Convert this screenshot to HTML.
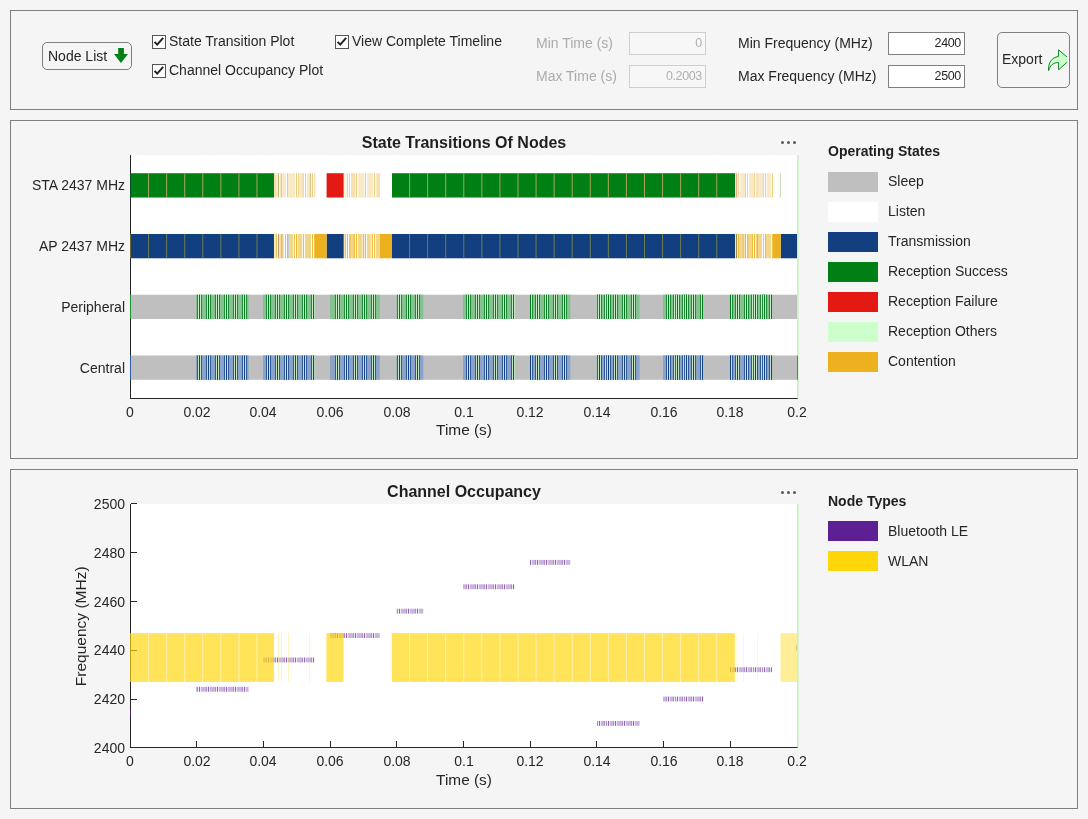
<!DOCTYPE html>
<html><head><meta charset="utf-8">
<style>
html,body{margin:0;padding:0;}
body{width:1088px;height:819px;background:#f5f5f5;position:relative;overflow:hidden;font-family:"Liberation Sans",sans-serif;color:#262626;}
.a{position:absolute;white-space:nowrap;will-change:transform;}
.panel{position:absolute;border:1px solid #7f7f7f;box-sizing:border-box;}
.t14{font-size:14px;line-height:16px;}
.cb{position:absolute;width:14px;height:14px;box-sizing:border-box;border:1px solid #555;background:#fff;}
.fld{position:absolute;box-sizing:border-box;height:23px;font-size:12.5px;line-height:20px;text-align:right;padding-right:3.2px;will-change:transform;letter-spacing:-0.4px;}
.dis{border:1px solid #cfcfcf;background:#f7f7f7;color:#b0b0b0;}
.en{border:1px solid #7f7f7f;background:#fff;color:#262626;}
.btn{position:absolute;box-sizing:border-box;border:1px solid #7f7f7f;border-radius:5px;}
svg.plot{position:absolute;left:0;top:0;}
</style></head>
<body>
<div class="panel" style="left:10px;top:10px;width:1068px;height:100px;"></div>
<div class="btn" style="left:42px;top:42px;width:90px;height:28px;"></div>
<div class="a t14" style="left:48px;top:48px;">Node List</div>
<svg class="a" style="left:112px;top:46px;" width="18" height="20" viewBox="0 0 18 20"><path d="M6.2 2 H11.9 V8 H16 L8.95 17 L2 8 H6.2 Z" fill="#008014"/></svg>
<div class="cb" style="left:152px;top:35px;"></div>
<svg class="a" style="left:152px;top:35px;" width="14" height="14"><path d="M2.6 6.9 L5.2 9.6 L11.2 2.9" fill="none" stroke="#222" stroke-width="2"/></svg>
<div class="a t14" style="left:169px;top:33px;">State Transition Plot</div>
<div class="cb" style="left:152px;top:64px;"></div>
<svg class="a" style="left:152px;top:64px;" width="14" height="14"><path d="M2.6 6.9 L5.2 9.6 L11.2 2.9" fill="none" stroke="#222" stroke-width="2"/></svg>
<div class="a t14" style="left:169px;top:62px;">Channel Occupancy Plot</div>
<div class="cb" style="left:335px;top:35px;"></div>
<svg class="a" style="left:335px;top:35px;" width="14" height="14"><path d="M2.6 6.9 L5.2 9.6 L11.2 2.9" fill="none" stroke="#222" stroke-width="2"/></svg>
<div class="a t14" style="left:352px;top:33px;">View Complete Timeline</div>
<div class="a t14" style="left:536px;top:35px;color:#ababab;">Min Time (s)</div>
<div class="a t14" style="left:536px;top:68px;color:#ababab;">Max Time (s)</div>
<div class="fld dis" style="left:629px;top:32px;width:77px;">0</div>
<div class="fld dis" style="left:629px;top:65px;width:77px;">0.2003</div>
<div class="a t14" style="left:738px;top:35px;">Min Frequency (MHz)</div>
<div class="a t14" style="left:738px;top:68px;">Max Frequency (MHz)</div>
<div class="fld en" style="left:888px;top:32px;width:77px;">2400</div>
<div class="fld en" style="left:888px;top:65px;width:77px;">2500</div>
<div class="btn" style="left:997px;top:32px;width:73px;height:56px;"></div>
<div class="a t14" style="left:1002px;top:51px;">Export</div>
<svg class="a" style="left:1040px;top:45px;" width="27" height="30" viewBox="1040 45 27 30"><path d="M1048.6 70.6 C1048 63 1051.5 57.5 1058.6 56.4 V49.8 L1070 59.6 L1058.6 69.8 V62.6 C1053.5 62.3 1050 65.5 1048.6 70.6 Z" fill="#ccffcc" stroke="#008014" stroke-width="0.95" stroke-linejoin="miter"/></svg>

<div class="panel" style="left:10px;top:120px;width:1068px;height:339px;"></div>
<div class="panel" style="left:10px;top:469px;width:1068px;height:340px;"></div>

<svg class="plot" width="1088" height="819"><rect x="131" y="155" width="666" height="243" fill="#fff"/><rect x="130.5" y="173.22" width="143.5" height="24.3" fill="#007f14"/><rect x="148.07" y="173.22" width="1" height="24.3" fill="#a9a35a"/><rect x="166.14" y="173.22" width="1" height="24.3" fill="#a9a35a"/><rect x="184.21" y="173.22" width="1" height="24.3" fill="#a9a35a"/><rect x="202.28" y="173.22" width="1" height="24.3" fill="#a9a35a"/><rect x="220.35" y="173.22" width="1" height="24.3" fill="#a9a35a"/><rect x="238.42" y="173.22" width="1" height="24.3" fill="#a9a35a"/><rect x="256.49" y="173.22" width="1" height="24.3" fill="#a9a35a"/><rect x="392" y="173.22" width="343" height="24.3" fill="#007f14"/><rect x="409.07" y="173.22" width="1" height="24.3" fill="#a9a35a"/><rect x="427.14" y="173.22" width="1" height="24.3" fill="#a9a35a"/><rect x="445.21" y="173.22" width="1" height="24.3" fill="#a9a35a"/><rect x="463.28" y="173.22" width="1" height="24.3" fill="#a9a35a"/><rect x="481.35" y="173.22" width="1" height="24.3" fill="#a9a35a"/><rect x="499.42" y="173.22" width="1" height="24.3" fill="#a9a35a"/><rect x="517.49" y="173.22" width="1" height="24.3" fill="#a9a35a"/><rect x="535.56" y="173.22" width="1" height="24.3" fill="#a9a35a"/><rect x="553.63" y="173.22" width="1" height="24.3" fill="#a9a35a"/><rect x="571.7" y="173.22" width="1" height="24.3" fill="#a9a35a"/><rect x="589.77" y="173.22" width="1" height="24.3" fill="#a9a35a"/><rect x="607.84" y="173.22" width="1" height="24.3" fill="#a9a35a"/><rect x="625.91" y="173.22" width="1" height="24.3" fill="#a9a35a"/><rect x="643.98" y="173.22" width="1" height="24.3" fill="#a9a35a"/><rect x="662.05" y="173.22" width="1" height="24.3" fill="#a9a35a"/><rect x="680.12" y="173.22" width="1" height="24.3" fill="#a9a35a"/><rect x="698.19" y="173.22" width="1" height="24.3" fill="#a9a35a"/><rect x="716.26" y="173.22" width="1" height="24.3" fill="#a9a35a"/><rect x="326.6" y="173.22" width="17.1" height="24.3" fill="#e31a14"/><rect x="274" y="173.22" width="2.7" height="24.3" fill="#f6deb0"/><rect x="277.8" y="173.22" width="1.2" height="24.3" fill="#c9b765"/><rect x="280.3" y="173.22" width="5.7" height="24.3" fill="#f8e9c8"/><rect x="280.8" y="173.22" width="1" height="24.3" fill="#c8c890"/><rect x="287" y="173.22" width="8" height="24.3" fill="#f8e9c8"/><rect x="287" y="173.22" width="1" height="24.3" fill="#f1cd7a"/><rect x="296" y="173.22" width="1" height="24.3" fill="#f1cd7a"/><rect x="298" y="173.22" width="6" height="24.3" fill="#f8e9c8"/><rect x="298" y="173.22" width="1" height="24.3" fill="#f3d89a"/><rect x="302.5" y="173.22" width="1.3" height="24.3" fill="#f3d89a"/><rect x="305" y="173.22" width="1" height="24.3" fill="#f1cd7a"/><rect x="306.8" y="173.22" width="3.6" height="24.3" fill="#f8e9c8"/><rect x="309.8" y="173.22" width="1" height="24.3" fill="#c9bd8a"/><rect x="311.8" y="173.22" width="1.2" height="24.3" fill="#f1cd7a"/><rect x="313.9" y="173.22" width="1.4" height="24.3" fill="#f6dfb0"/><rect x="343.9" y="173.22" width="2.3" height="24.3" fill="#fbf0d8"/><rect x="346.9" y="173.22" width="1" height="24.3" fill="#f1cd7a"/><rect x="349" y="173.22" width="0.9" height="24.3" fill="#f1cd7a"/><rect x="351" y="173.22" width="4.2" height="24.3" fill="#f6e0b0"/><rect x="355.9" y="173.22" width="1.1" height="24.3" fill="#f1cd7a"/><rect x="358.2" y="173.22" width="5.7" height="24.3" fill="#f8e9c8"/><rect x="364.8" y="173.22" width="1.2" height="24.3" fill="#f1cd7a"/><rect x="367.1" y="173.22" width="5.8" height="24.3" fill="#f8e9c8"/><rect x="374" y="173.22" width="1" height="24.3" fill="#f1cd7a"/><rect x="376.3" y="173.22" width="3.7" height="24.3" fill="#f6e0b0"/><rect x="735.8" y="173.22" width="1.4" height="24.3" fill="#f0a58a"/><rect x="738" y="173.22" width="0.8" height="24.3" fill="#f1cd7a"/><rect x="740.2" y="173.22" width="5.5" height="24.3" fill="#f8e9c8"/><rect x="745" y="173.22" width="0.8" height="24.3" fill="#f1cd7a"/><rect x="747.1" y="173.22" width="0.8" height="24.3" fill="#f1cd7a"/><rect x="749" y="173.22" width="5.8" height="24.3" fill="#f8e9c8"/><rect x="754" y="173.22" width="0.8" height="24.3" fill="#f1cd7a"/><rect x="755.9" y="173.22" width="8" height="24.3" fill="#f8e9c8"/><rect x="756.6" y="173.22" width="1" height="24.3" fill="#f8d0b8"/><rect x="763.2" y="173.22" width="0.7" height="24.3" fill="#f1cd7a"/><rect x="765" y="173.22" width="0.9" height="24.3" fill="#f1cd7a"/><rect x="766.7" y="173.22" width="4.3" height="24.3" fill="#f8e9c8"/><rect x="772" y="173.22" width="1" height="24.3" fill="#f1cd7a"/><rect x="779.9" y="173.22" width="1.1" height="24.3" fill="#cfd8b8"/><rect x="130.5" y="233.98" width="143.5" height="24.3" fill="#113f7f"/><rect x="148.07" y="233.98" width="1" height="24.3" fill="#6f7d4f"/><rect x="166.14" y="233.98" width="1" height="24.3" fill="#6f7d4f"/><rect x="184.21" y="233.98" width="1" height="24.3" fill="#6f7d4f"/><rect x="202.28" y="233.98" width="1" height="24.3" fill="#6f7d4f"/><rect x="220.35" y="233.98" width="1" height="24.3" fill="#6f7d4f"/><rect x="238.42" y="233.98" width="1" height="24.3" fill="#6f7d4f"/><rect x="256.49" y="233.98" width="1" height="24.3" fill="#6f7d4f"/><rect x="326.6" y="233.98" width="17.1" height="24.3" fill="#113f7f"/><rect x="392" y="233.98" width="343" height="24.3" fill="#113f7f"/><rect x="409.07" y="233.98" width="1" height="24.3" fill="#6f7d4f"/><rect x="427.14" y="233.98" width="1" height="24.3" fill="#6f7d4f"/><rect x="445.21" y="233.98" width="1" height="24.3" fill="#6f7d4f"/><rect x="463.28" y="233.98" width="1" height="24.3" fill="#6f7d4f"/><rect x="481.35" y="233.98" width="1" height="24.3" fill="#6f7d4f"/><rect x="499.42" y="233.98" width="1" height="24.3" fill="#6f7d4f"/><rect x="517.49" y="233.98" width="1" height="24.3" fill="#6f7d4f"/><rect x="535.56" y="233.98" width="1" height="24.3" fill="#6f7d4f"/><rect x="553.63" y="233.98" width="1" height="24.3" fill="#6f7d4f"/><rect x="571.7" y="233.98" width="1" height="24.3" fill="#6f7d4f"/><rect x="589.77" y="233.98" width="1" height="24.3" fill="#6f7d4f"/><rect x="607.84" y="233.98" width="1" height="24.3" fill="#6f7d4f"/><rect x="625.91" y="233.98" width="1" height="24.3" fill="#6f7d4f"/><rect x="643.98" y="233.98" width="1" height="24.3" fill="#6f7d4f"/><rect x="662.05" y="233.98" width="1" height="24.3" fill="#6f7d4f"/><rect x="680.12" y="233.98" width="1" height="24.3" fill="#6f7d4f"/><rect x="698.19" y="233.98" width="1" height="24.3" fill="#6f7d4f"/><rect x="716.26" y="233.98" width="1" height="24.3" fill="#6f7d4f"/><rect x="780.7" y="233.98" width="16.3" height="24.3" fill="#113f7f"/><rect x="314.2" y="233.98" width="12.4" height="24.3" fill="#edb120"/><rect x="379.5" y="233.98" width="12.5" height="24.3" fill="#edb120"/><rect x="772.2" y="233.98" width="8.5" height="24.3" fill="#edb120"/><rect x="274.1" y="233.98" width="2.8" height="24.3" fill="#fbeec0"/><rect x="275.8" y="233.98" width="1" height="24.3" fill="#eeb935"/><rect x="278" y="233.98" width="1" height="24.3" fill="#b89a7a"/><rect x="279.2" y="233.98" width="4.6" height="24.3" fill="#f4d68a"/><rect x="279.4" y="233.98" width="1" height="24.3" fill="#fbeec0"/><rect x="281.2" y="233.98" width="1" height="24.3" fill="#b8b890"/><rect x="285" y="233.98" width="0.9" height="24.3" fill="#eeb935"/><rect x="287" y="233.98" width="1.4" height="24.3" fill="#eeb935"/><rect x="288" y="233.98" width="0.8" height="24.3" fill="#b8cce0"/><rect x="289" y="233.98" width="4" height="24.3" fill="#f4d68a"/><rect x="293.9" y="233.98" width="0.9" height="24.3" fill="#eeb935"/><rect x="296" y="233.98" width="1.1" height="24.3" fill="#eeb935"/><rect x="297.8" y="233.98" width="4.4" height="24.3" fill="#f4d68a"/><rect x="303.1" y="233.98" width="0.9" height="24.3" fill="#eeb935"/><rect x="304.9" y="233.98" width="6" height="24.3" fill="#f4d68a"/><rect x="309" y="233.98" width="1" height="24.3" fill="#d8d0b0"/><rect x="312" y="233.98" width="1" height="24.3" fill="#eeb935"/><rect x="344.1" y="233.98" width="1.9" height="24.3" fill="#fbeec0"/><rect x="344.8" y="233.98" width="1" height="24.3" fill="#eeb935"/><rect x="346.9" y="233.98" width="1.1" height="24.3" fill="#eeb935"/><rect x="349" y="233.98" width="5.9" height="24.3" fill="#f4d68a"/><rect x="349.3" y="233.98" width="1" height="24.3" fill="#eeb935"/><rect x="353.8" y="233.98" width="1" height="24.3" fill="#eeb935"/><rect x="355.9" y="233.98" width="1.1" height="24.3" fill="#eeb935"/><rect x="357.9" y="233.98" width="4.1" height="24.3" fill="#f4d68a"/><rect x="362.7" y="233.98" width="1.2" height="24.3" fill="#eeb935"/><rect x="364.8" y="233.98" width="1.2" height="24.3" fill="#eeb935"/><rect x="366.9" y="233.98" width="3.9" height="24.3" fill="#f4d68a"/><rect x="371.7" y="233.98" width="1.2" height="24.3" fill="#eeb935"/><rect x="374" y="233.98" width="0.9" height="24.3" fill="#eeb935"/><rect x="375.8" y="233.98" width="3.7" height="24.3" fill="#f4d68a"/><rect x="735.8" y="233.98" width="1.4" height="24.3" fill="#9a8a50"/><rect x="738" y="233.98" width="5.8" height="24.3" fill="#f4d68a"/><rect x="738" y="233.98" width="1" height="24.3" fill="#eeb935"/><rect x="742.8" y="233.98" width="0.8" height="24.3" fill="#c8bc90"/><rect x="744.6" y="233.98" width="1.4" height="24.3" fill="#eeb935"/><rect x="747.1" y="233.98" width="5.8" height="24.3" fill="#f4d68a"/><rect x="747.2" y="233.98" width="1" height="24.3" fill="#eeb935"/><rect x="752" y="233.98" width="0.9" height="24.3" fill="#eeb935"/><rect x="754" y="233.98" width="1.1" height="24.3" fill="#eeb935"/><rect x="755.9" y="233.98" width="6.1" height="24.3" fill="#f4d68a"/><rect x="757" y="233.98" width="1" height="24.3" fill="#b8b898"/><rect x="763.1" y="233.98" width="0.8" height="24.3" fill="#eeb935"/><rect x="765" y="233.98" width="6.1" height="24.3" fill="#f4d68a"/><rect x="765.2" y="233.98" width="0.8" height="24.3" fill="#eeb935"/><rect x="130.5" y="294.73" width="666.5" height="24.3" fill="#bfbfbf"/><rect x="196" y="294.73" width="52.6" height="24.3" fill="#86c290"/><rect x="197" y="294.73" width="1" height="24.3" fill="#1f8a3a"/><rect x="198" y="294.73" width="1" height="24.3" fill="#c8ecc8"/><rect x="199" y="294.73" width="1" height="24.3" fill="#007a14"/><rect x="200" y="294.73" width="1" height="24.3" fill="#c8ecc8"/><rect x="201" y="294.73" width="1" height="24.3" fill="#1f8a3a"/><rect x="206" y="294.73" width="1" height="24.3" fill="#1f8a3a"/><rect x="207" y="294.73" width="1" height="24.3" fill="#c8ecc8"/><rect x="208" y="294.73" width="1" height="24.3" fill="#007a14"/><rect x="209" y="294.73" width="1" height="24.3" fill="#c8ecc8"/><rect x="210" y="294.73" width="1" height="24.3" fill="#1f8a3a"/><rect x="215" y="294.73" width="1" height="24.3" fill="#1f8a3a"/><rect x="216" y="294.73" width="1" height="24.3" fill="#c8ecc8"/><rect x="217" y="294.73" width="1" height="24.3" fill="#007a14"/><rect x="218" y="294.73" width="1" height="24.3" fill="#c8ecc8"/><rect x="219" y="294.73" width="1" height="24.3" fill="#1f8a3a"/><rect x="224" y="294.73" width="1" height="24.3" fill="#1f8a3a"/><rect x="225" y="294.73" width="1" height="24.3" fill="#c8ecc8"/><rect x="226" y="294.73" width="1" height="24.3" fill="#007a14"/><rect x="227" y="294.73" width="1" height="24.3" fill="#c8ecc8"/><rect x="228" y="294.73" width="1" height="24.3" fill="#1f8a3a"/><rect x="233" y="294.73" width="1" height="24.3" fill="#1f8a3a"/><rect x="234" y="294.73" width="1" height="24.3" fill="#c8ecc8"/><rect x="235" y="294.73" width="1" height="24.3" fill="#007a14"/><rect x="236" y="294.73" width="1" height="24.3" fill="#c8ecc8"/><rect x="237" y="294.73" width="1" height="24.3" fill="#1f8a3a"/><rect x="242" y="294.73" width="1" height="24.3" fill="#1f8a3a"/><rect x="243" y="294.73" width="1" height="24.3" fill="#c8ecc8"/><rect x="244" y="294.73" width="1" height="24.3" fill="#007a14"/><rect x="245" y="294.73" width="1" height="24.3" fill="#c8ecc8"/><rect x="246" y="294.73" width="1" height="24.3" fill="#1f8a3a"/><rect x="263" y="294.73" width="51.6" height="24.3" fill="#86c290"/><rect x="266" y="294.73" width="1" height="24.3" fill="#1f8a3a"/><rect x="267" y="294.73" width="1" height="24.3" fill="#c8ecc8"/><rect x="268" y="294.73" width="1" height="24.3" fill="#007a14"/><rect x="269" y="294.73" width="1" height="24.3" fill="#c8ecc8"/><rect x="270" y="294.73" width="1" height="24.3" fill="#1f8a3a"/><rect x="275" y="294.73" width="1" height="24.3" fill="#1f8a3a"/><rect x="276" y="294.73" width="1" height="24.3" fill="#c8ecc8"/><rect x="277" y="294.73" width="1" height="24.3" fill="#007a14"/><rect x="278" y="294.73" width="1" height="24.3" fill="#c8ecc8"/><rect x="279" y="294.73" width="1" height="24.3" fill="#1f8a3a"/><rect x="284" y="294.73" width="1" height="24.3" fill="#1f8a3a"/><rect x="285" y="294.73" width="1" height="24.3" fill="#c8ecc8"/><rect x="286" y="294.73" width="1" height="24.3" fill="#007a14"/><rect x="287" y="294.73" width="1" height="24.3" fill="#c8ecc8"/><rect x="288" y="294.73" width="1" height="24.3" fill="#1f8a3a"/><rect x="293" y="294.73" width="1" height="24.3" fill="#1f8a3a"/><rect x="294" y="294.73" width="1" height="24.3" fill="#c8ecc8"/><rect x="295" y="294.73" width="1" height="24.3" fill="#007a14"/><rect x="296" y="294.73" width="1" height="24.3" fill="#c8ecc8"/><rect x="297" y="294.73" width="1" height="24.3" fill="#1f8a3a"/><rect x="302" y="294.73" width="1" height="24.3" fill="#1f8a3a"/><rect x="303" y="294.73" width="1" height="24.3" fill="#c8ecc8"/><rect x="304" y="294.73" width="1" height="24.3" fill="#007a14"/><rect x="305" y="294.73" width="1" height="24.3" fill="#c8ecc8"/><rect x="306" y="294.73" width="1" height="24.3" fill="#1f8a3a"/><rect x="311" y="294.73" width="1" height="24.3" fill="#1f8a3a"/><rect x="312" y="294.73" width="1" height="24.3" fill="#c8ecc8"/><rect x="313" y="294.73" width="1" height="24.3" fill="#007a14"/><rect x="314" y="294.73" width="0.6" height="24.3" fill="#c8ecc8"/><rect x="330" y="294.73" width="49.8" height="24.3" fill="#86c290"/><rect x="335" y="294.73" width="1" height="24.3" fill="#1f8a3a"/><rect x="336" y="294.73" width="1" height="24.3" fill="#c8ecc8"/><rect x="337" y="294.73" width="1" height="24.3" fill="#007a14"/><rect x="338" y="294.73" width="1" height="24.3" fill="#c8ecc8"/><rect x="339" y="294.73" width="1" height="24.3" fill="#1f8a3a"/><rect x="344" y="294.73" width="1" height="24.3" fill="#1f8a3a"/><rect x="345" y="294.73" width="1" height="24.3" fill="#c8ecc8"/><rect x="346" y="294.73" width="1" height="24.3" fill="#007a14"/><rect x="347" y="294.73" width="1" height="24.3" fill="#c8ecc8"/><rect x="348" y="294.73" width="1" height="24.3" fill="#1f8a3a"/><rect x="353" y="294.73" width="1" height="24.3" fill="#1f8a3a"/><rect x="354" y="294.73" width="1" height="24.3" fill="#c8ecc8"/><rect x="355" y="294.73" width="1" height="24.3" fill="#007a14"/><rect x="356" y="294.73" width="1" height="24.3" fill="#c8ecc8"/><rect x="357" y="294.73" width="1" height="24.3" fill="#1f8a3a"/><rect x="362" y="294.73" width="1" height="24.3" fill="#1f8a3a"/><rect x="363" y="294.73" width="1" height="24.3" fill="#c8ecc8"/><rect x="364" y="294.73" width="1" height="24.3" fill="#007a14"/><rect x="365" y="294.73" width="1" height="24.3" fill="#c8ecc8"/><rect x="366" y="294.73" width="1" height="24.3" fill="#1f8a3a"/><rect x="371" y="294.73" width="1" height="24.3" fill="#1f8a3a"/><rect x="372" y="294.73" width="1" height="24.3" fill="#c8ecc8"/><rect x="373" y="294.73" width="1" height="24.3" fill="#007a14"/><rect x="374" y="294.73" width="1" height="24.3" fill="#c8ecc8"/><rect x="375" y="294.73" width="1" height="24.3" fill="#1f8a3a"/><rect x="396.6" y="294.73" width="26.7" height="24.3" fill="#86c290"/><rect x="397" y="294.73" width="1" height="24.3" fill="#1f8a3a"/><rect x="398" y="294.73" width="1" height="24.3" fill="#c8ecc8"/><rect x="399" y="294.73" width="1" height="24.3" fill="#007a14"/><rect x="400" y="294.73" width="1" height="24.3" fill="#c8ecc8"/><rect x="401" y="294.73" width="1" height="24.3" fill="#1f8a3a"/><rect x="406" y="294.73" width="1" height="24.3" fill="#1f8a3a"/><rect x="407" y="294.73" width="1" height="24.3" fill="#c8ecc8"/><rect x="408" y="294.73" width="1" height="24.3" fill="#007a14"/><rect x="409" y="294.73" width="1" height="24.3" fill="#c8ecc8"/><rect x="410" y="294.73" width="1" height="24.3" fill="#1f8a3a"/><rect x="415" y="294.73" width="1" height="24.3" fill="#1f8a3a"/><rect x="416" y="294.73" width="1" height="24.3" fill="#c8ecc8"/><rect x="417" y="294.73" width="1" height="24.3" fill="#007a14"/><rect x="418" y="294.73" width="1" height="24.3" fill="#c8ecc8"/><rect x="419" y="294.73" width="1" height="24.3" fill="#1f8a3a"/><rect x="463" y="294.73" width="51.9" height="24.3" fill="#86c290"/><rect x="466" y="294.73" width="1" height="24.3" fill="#1f8a3a"/><rect x="467" y="294.73" width="1" height="24.3" fill="#c8ecc8"/><rect x="468" y="294.73" width="1" height="24.3" fill="#007a14"/><rect x="469" y="294.73" width="1" height="24.3" fill="#c8ecc8"/><rect x="470" y="294.73" width="1" height="24.3" fill="#1f8a3a"/><rect x="475" y="294.73" width="1" height="24.3" fill="#1f8a3a"/><rect x="476" y="294.73" width="1" height="24.3" fill="#c8ecc8"/><rect x="477" y="294.73" width="1" height="24.3" fill="#007a14"/><rect x="478" y="294.73" width="1" height="24.3" fill="#c8ecc8"/><rect x="479" y="294.73" width="1" height="24.3" fill="#1f8a3a"/><rect x="484" y="294.73" width="1" height="24.3" fill="#1f8a3a"/><rect x="485" y="294.73" width="1" height="24.3" fill="#c8ecc8"/><rect x="486" y="294.73" width="1" height="24.3" fill="#007a14"/><rect x="487" y="294.73" width="1" height="24.3" fill="#c8ecc8"/><rect x="488" y="294.73" width="1" height="24.3" fill="#1f8a3a"/><rect x="493" y="294.73" width="1" height="24.3" fill="#1f8a3a"/><rect x="494" y="294.73" width="1" height="24.3" fill="#c8ecc8"/><rect x="495" y="294.73" width="1" height="24.3" fill="#007a14"/><rect x="496" y="294.73" width="1" height="24.3" fill="#c8ecc8"/><rect x="497" y="294.73" width="1" height="24.3" fill="#1f8a3a"/><rect x="502" y="294.73" width="1" height="24.3" fill="#1f8a3a"/><rect x="503" y="294.73" width="1" height="24.3" fill="#c8ecc8"/><rect x="504" y="294.73" width="1" height="24.3" fill="#007a14"/><rect x="505" y="294.73" width="1" height="24.3" fill="#c8ecc8"/><rect x="506" y="294.73" width="1" height="24.3" fill="#1f8a3a"/><rect x="511" y="294.73" width="1" height="24.3" fill="#1f8a3a"/><rect x="512" y="294.73" width="1" height="24.3" fill="#c8ecc8"/><rect x="513" y="294.73" width="1" height="24.3" fill="#007a14"/><rect x="514" y="294.73" width="0.9" height="24.3" fill="#c8ecc8"/><rect x="530" y="294.73" width="40.3" height="24.3" fill="#86c290"/><rect x="530" y="294.73" width="1" height="24.3" fill="#007a14"/><rect x="531" y="294.73" width="1" height="24.3" fill="#c8ecc8"/><rect x="532" y="294.73" width="1" height="24.3" fill="#1f8a3a"/><rect x="535" y="294.73" width="1" height="24.3" fill="#1f8a3a"/><rect x="536" y="294.73" width="1" height="24.3" fill="#c8ecc8"/><rect x="537" y="294.73" width="1" height="24.3" fill="#007a14"/><rect x="538" y="294.73" width="1" height="24.3" fill="#c8ecc8"/><rect x="539" y="294.73" width="1" height="24.3" fill="#1f8a3a"/><rect x="544" y="294.73" width="1" height="24.3" fill="#1f8a3a"/><rect x="545" y="294.73" width="1" height="24.3" fill="#c8ecc8"/><rect x="546" y="294.73" width="1" height="24.3" fill="#007a14"/><rect x="547" y="294.73" width="1" height="24.3" fill="#c8ecc8"/><rect x="548" y="294.73" width="1" height="24.3" fill="#1f8a3a"/><rect x="553" y="294.73" width="1" height="24.3" fill="#1f8a3a"/><rect x="554" y="294.73" width="1" height="24.3" fill="#c8ecc8"/><rect x="555" y="294.73" width="1" height="24.3" fill="#007a14"/><rect x="556" y="294.73" width="1" height="24.3" fill="#c8ecc8"/><rect x="557" y="294.73" width="1" height="24.3" fill="#1f8a3a"/><rect x="562" y="294.73" width="1" height="24.3" fill="#1f8a3a"/><rect x="563" y="294.73" width="1" height="24.3" fill="#c8ecc8"/><rect x="564" y="294.73" width="1" height="24.3" fill="#007a14"/><rect x="565" y="294.73" width="1" height="24.3" fill="#c8ecc8"/><rect x="566" y="294.73" width="1" height="24.3" fill="#1f8a3a"/><rect x="596.8" y="294.73" width="42.8" height="24.3" fill="#86c290"/><rect x="596.8" y="294.73" width="0.2" height="24.3" fill="#c8ecc8"/><rect x="597" y="294.73" width="1" height="24.3" fill="#007a14"/><rect x="598" y="294.73" width="1" height="24.3" fill="#c8ecc8"/><rect x="599" y="294.73" width="1" height="24.3" fill="#1f8a3a"/><rect x="597" y="294.73" width="1" height="24.3" fill="#1f8a3a"/><rect x="598" y="294.73" width="1" height="24.3" fill="#c8ecc8"/><rect x="599" y="294.73" width="1" height="24.3" fill="#007a14"/><rect x="600" y="294.73" width="1" height="24.3" fill="#c8ecc8"/><rect x="601" y="294.73" width="1" height="24.3" fill="#1f8a3a"/><rect x="604" y="294.73" width="1" height="24.3" fill="#1f8a3a"/><rect x="605" y="294.73" width="1" height="24.3" fill="#c8ecc8"/><rect x="606" y="294.73" width="1" height="24.3" fill="#007a14"/><rect x="607" y="294.73" width="1" height="24.3" fill="#c8ecc8"/><rect x="608" y="294.73" width="1" height="24.3" fill="#1f8a3a"/><rect x="606" y="294.73" width="1" height="24.3" fill="#1f8a3a"/><rect x="607" y="294.73" width="1" height="24.3" fill="#c8ecc8"/><rect x="608" y="294.73" width="1" height="24.3" fill="#007a14"/><rect x="609" y="294.73" width="1" height="24.3" fill="#c8ecc8"/><rect x="610" y="294.73" width="1" height="24.3" fill="#1f8a3a"/><rect x="613" y="294.73" width="1" height="24.3" fill="#1f8a3a"/><rect x="614" y="294.73" width="1" height="24.3" fill="#c8ecc8"/><rect x="615" y="294.73" width="1" height="24.3" fill="#007a14"/><rect x="616" y="294.73" width="1" height="24.3" fill="#c8ecc8"/><rect x="617" y="294.73" width="1" height="24.3" fill="#1f8a3a"/><rect x="622" y="294.73" width="1" height="24.3" fill="#1f8a3a"/><rect x="623" y="294.73" width="1" height="24.3" fill="#c8ecc8"/><rect x="624" y="294.73" width="1" height="24.3" fill="#007a14"/><rect x="625" y="294.73" width="1" height="24.3" fill="#c8ecc8"/><rect x="626" y="294.73" width="1" height="24.3" fill="#1f8a3a"/><rect x="631" y="294.73" width="1" height="24.3" fill="#1f8a3a"/><rect x="632" y="294.73" width="1" height="24.3" fill="#c8ecc8"/><rect x="633" y="294.73" width="1" height="24.3" fill="#007a14"/><rect x="634" y="294.73" width="1" height="24.3" fill="#c8ecc8"/><rect x="635" y="294.73" width="1" height="24.3" fill="#1f8a3a"/><rect x="663" y="294.73" width="40.3" height="24.3" fill="#86c290"/><rect x="666" y="294.73" width="1" height="24.3" fill="#1f8a3a"/><rect x="667" y="294.73" width="1" height="24.3" fill="#c8ecc8"/><rect x="668" y="294.73" width="1" height="24.3" fill="#007a14"/><rect x="669" y="294.73" width="1" height="24.3" fill="#c8ecc8"/><rect x="670" y="294.73" width="1" height="24.3" fill="#1f8a3a"/><rect x="673" y="294.73" width="1" height="24.3" fill="#1f8a3a"/><rect x="674" y="294.73" width="1" height="24.3" fill="#c8ecc8"/><rect x="675" y="294.73" width="1" height="24.3" fill="#007a14"/><rect x="676" y="294.73" width="1" height="24.3" fill="#c8ecc8"/><rect x="677" y="294.73" width="1" height="24.3" fill="#1f8a3a"/><rect x="675" y="294.73" width="1" height="24.3" fill="#1f8a3a"/><rect x="676" y="294.73" width="1" height="24.3" fill="#c8ecc8"/><rect x="677" y="294.73" width="1" height="24.3" fill="#007a14"/><rect x="678" y="294.73" width="1" height="24.3" fill="#c8ecc8"/><rect x="679" y="294.73" width="1" height="24.3" fill="#1f8a3a"/><rect x="682" y="294.73" width="1" height="24.3" fill="#1f8a3a"/><rect x="683" y="294.73" width="1" height="24.3" fill="#c8ecc8"/><rect x="684" y="294.73" width="1" height="24.3" fill="#007a14"/><rect x="685" y="294.73" width="1" height="24.3" fill="#c8ecc8"/><rect x="686" y="294.73" width="1" height="24.3" fill="#1f8a3a"/><rect x="684" y="294.73" width="1" height="24.3" fill="#1f8a3a"/><rect x="685" y="294.73" width="1" height="24.3" fill="#c8ecc8"/><rect x="686" y="294.73" width="1" height="24.3" fill="#007a14"/><rect x="687" y="294.73" width="1" height="24.3" fill="#c8ecc8"/><rect x="688" y="294.73" width="1" height="24.3" fill="#1f8a3a"/><rect x="691" y="294.73" width="1" height="24.3" fill="#1f8a3a"/><rect x="692" y="294.73" width="1" height="24.3" fill="#c8ecc8"/><rect x="693" y="294.73" width="1" height="24.3" fill="#007a14"/><rect x="694" y="294.73" width="1" height="24.3" fill="#c8ecc8"/><rect x="695" y="294.73" width="1" height="24.3" fill="#1f8a3a"/><rect x="700" y="294.73" width="1" height="24.3" fill="#1f8a3a"/><rect x="701" y="294.73" width="1" height="24.3" fill="#c8ecc8"/><rect x="702" y="294.73" width="1" height="24.3" fill="#007a14"/><rect x="703" y="294.73" width="0.3" height="24.3" fill="#c8ecc8"/><rect x="730" y="294.73" width="42.1" height="24.3" fill="#86c290"/><rect x="730" y="294.73" width="1" height="24.3" fill="#007a14"/><rect x="731" y="294.73" width="1" height="24.3" fill="#c8ecc8"/><rect x="732" y="294.73" width="1" height="24.3" fill="#1f8a3a"/><rect x="735" y="294.73" width="1" height="24.3" fill="#1f8a3a"/><rect x="736" y="294.73" width="1" height="24.3" fill="#c8ecc8"/><rect x="737" y="294.73" width="1" height="24.3" fill="#007a14"/><rect x="738" y="294.73" width="1" height="24.3" fill="#c8ecc8"/><rect x="739" y="294.73" width="1" height="24.3" fill="#1f8a3a"/><rect x="744" y="294.73" width="1" height="24.3" fill="#1f8a3a"/><rect x="745" y="294.73" width="1" height="24.3" fill="#c8ecc8"/><rect x="746" y="294.73" width="1" height="24.3" fill="#007a14"/><rect x="747" y="294.73" width="1" height="24.3" fill="#c8ecc8"/><rect x="748" y="294.73" width="1" height="24.3" fill="#1f8a3a"/><rect x="751" y="294.73" width="1" height="24.3" fill="#1f8a3a"/><rect x="752" y="294.73" width="1" height="24.3" fill="#c8ecc8"/><rect x="753" y="294.73" width="1" height="24.3" fill="#007a14"/><rect x="754" y="294.73" width="1" height="24.3" fill="#c8ecc8"/><rect x="755" y="294.73" width="1" height="24.3" fill="#1f8a3a"/><rect x="753" y="294.73" width="1" height="24.3" fill="#1f8a3a"/><rect x="754" y="294.73" width="1" height="24.3" fill="#c8ecc8"/><rect x="755" y="294.73" width="1" height="24.3" fill="#007a14"/><rect x="756" y="294.73" width="1" height="24.3" fill="#c8ecc8"/><rect x="757" y="294.73" width="1" height="24.3" fill="#1f8a3a"/><rect x="760" y="294.73" width="1" height="24.3" fill="#1f8a3a"/><rect x="761" y="294.73" width="1" height="24.3" fill="#c8ecc8"/><rect x="762" y="294.73" width="1" height="24.3" fill="#007a14"/><rect x="763" y="294.73" width="1" height="24.3" fill="#c8ecc8"/><rect x="764" y="294.73" width="1" height="24.3" fill="#1f8a3a"/><rect x="762" y="294.73" width="1" height="24.3" fill="#1f8a3a"/><rect x="763" y="294.73" width="1" height="24.3" fill="#c8ecc8"/><rect x="764" y="294.73" width="1" height="24.3" fill="#007a14"/><rect x="765" y="294.73" width="1" height="24.3" fill="#c8ecc8"/><rect x="766" y="294.73" width="1" height="24.3" fill="#1f8a3a"/><rect x="769" y="294.73" width="1" height="24.3" fill="#1f8a3a"/><rect x="770" y="294.73" width="1" height="24.3" fill="#c8ecc8"/><rect x="771" y="294.73" width="1" height="24.3" fill="#007a14"/><rect x="772" y="294.73" width="0.1" height="24.3" fill="#c8ecc8"/><rect x="130.5" y="355.48" width="666.5" height="24.3" fill="#bfbfbf"/><rect x="196" y="355.48" width="52.6" height="24.3" fill="#8ca2c8"/><rect x="197" y="355.48" width="1" height="24.3" fill="#2f5a98"/><rect x="198" y="355.48" width="1" height="24.3" fill="#c5e6c8"/><rect x="199" y="355.48" width="1" height="24.3" fill="#0f3f80"/><rect x="200" y="355.48" width="1" height="24.3" fill="#c5e6c8"/><rect x="201" y="355.48" width="1" height="24.3" fill="#2f5a98"/><rect x="206" y="355.48" width="1" height="24.3" fill="#2f5a98"/><rect x="207" y="355.48" width="1" height="24.3" fill="#c5e6c8"/><rect x="208" y="355.48" width="1" height="24.3" fill="#0f3f80"/><rect x="209" y="355.48" width="1" height="24.3" fill="#c5e6c8"/><rect x="210" y="355.48" width="1" height="24.3" fill="#2f5a98"/><rect x="215" y="355.48" width="1" height="24.3" fill="#2f5a98"/><rect x="216" y="355.48" width="1" height="24.3" fill="#c5e6c8"/><rect x="217" y="355.48" width="1" height="24.3" fill="#0f3f80"/><rect x="218" y="355.48" width="1" height="24.3" fill="#c5e6c8"/><rect x="219" y="355.48" width="1" height="24.3" fill="#2f5a98"/><rect x="224" y="355.48" width="1" height="24.3" fill="#2f5a98"/><rect x="225" y="355.48" width="1" height="24.3" fill="#c5e6c8"/><rect x="226" y="355.48" width="1" height="24.3" fill="#0f3f80"/><rect x="227" y="355.48" width="1" height="24.3" fill="#c5e6c8"/><rect x="228" y="355.48" width="1" height="24.3" fill="#2f5a98"/><rect x="233" y="355.48" width="1" height="24.3" fill="#2f5a98"/><rect x="234" y="355.48" width="1" height="24.3" fill="#c5e6c8"/><rect x="235" y="355.48" width="1" height="24.3" fill="#0f3f80"/><rect x="236" y="355.48" width="1" height="24.3" fill="#c5e6c8"/><rect x="237" y="355.48" width="1" height="24.3" fill="#2f5a98"/><rect x="242" y="355.48" width="1" height="24.3" fill="#2f5a98"/><rect x="243" y="355.48" width="1" height="24.3" fill="#c5e6c8"/><rect x="244" y="355.48" width="1" height="24.3" fill="#0f3f80"/><rect x="245" y="355.48" width="1" height="24.3" fill="#c5e6c8"/><rect x="246" y="355.48" width="1" height="24.3" fill="#2f5a98"/><rect x="263" y="355.48" width="51.6" height="24.3" fill="#8ca2c8"/><rect x="266" y="355.48" width="1" height="24.3" fill="#2f5a98"/><rect x="267" y="355.48" width="1" height="24.3" fill="#c5e6c8"/><rect x="268" y="355.48" width="1" height="24.3" fill="#0f3f80"/><rect x="269" y="355.48" width="1" height="24.3" fill="#c5e6c8"/><rect x="270" y="355.48" width="1" height="24.3" fill="#2f5a98"/><rect x="275" y="355.48" width="1" height="24.3" fill="#2f5a98"/><rect x="276" y="355.48" width="1" height="24.3" fill="#c5e6c8"/><rect x="277" y="355.48" width="1" height="24.3" fill="#0f3f80"/><rect x="278" y="355.48" width="1" height="24.3" fill="#c5e6c8"/><rect x="279" y="355.48" width="1" height="24.3" fill="#2f5a98"/><rect x="284" y="355.48" width="1" height="24.3" fill="#2f5a98"/><rect x="285" y="355.48" width="1" height="24.3" fill="#c5e6c8"/><rect x="286" y="355.48" width="1" height="24.3" fill="#0f3f80"/><rect x="287" y="355.48" width="1" height="24.3" fill="#c5e6c8"/><rect x="288" y="355.48" width="1" height="24.3" fill="#2f5a98"/><rect x="293" y="355.48" width="1" height="24.3" fill="#2f5a98"/><rect x="294" y="355.48" width="1" height="24.3" fill="#c5e6c8"/><rect x="295" y="355.48" width="1" height="24.3" fill="#0f3f80"/><rect x="296" y="355.48" width="1" height="24.3" fill="#c5e6c8"/><rect x="297" y="355.48" width="1" height="24.3" fill="#2f5a98"/><rect x="302" y="355.48" width="1" height="24.3" fill="#2f5a98"/><rect x="303" y="355.48" width="1" height="24.3" fill="#c5e6c8"/><rect x="304" y="355.48" width="1" height="24.3" fill="#0f3f80"/><rect x="305" y="355.48" width="1" height="24.3" fill="#c5e6c8"/><rect x="306" y="355.48" width="1" height="24.3" fill="#2f5a98"/><rect x="311" y="355.48" width="1" height="24.3" fill="#2f5a98"/><rect x="312" y="355.48" width="1" height="24.3" fill="#c5e6c8"/><rect x="313" y="355.48" width="1" height="24.3" fill="#0f3f80"/><rect x="314" y="355.48" width="0.6" height="24.3" fill="#c5e6c8"/><rect x="330" y="355.48" width="49.8" height="24.3" fill="#8ca2c8"/><rect x="335" y="355.48" width="1" height="24.3" fill="#2f5a98"/><rect x="336" y="355.48" width="1" height="24.3" fill="#c5e6c8"/><rect x="337" y="355.48" width="1" height="24.3" fill="#0f3f80"/><rect x="338" y="355.48" width="1" height="24.3" fill="#c5e6c8"/><rect x="339" y="355.48" width="1" height="24.3" fill="#2f5a98"/><rect x="344" y="355.48" width="1" height="24.3" fill="#2f5a98"/><rect x="345" y="355.48" width="1" height="24.3" fill="#c5e6c8"/><rect x="346" y="355.48" width="1" height="24.3" fill="#0f3f80"/><rect x="347" y="355.48" width="1" height="24.3" fill="#c5e6c8"/><rect x="348" y="355.48" width="1" height="24.3" fill="#2f5a98"/><rect x="353" y="355.48" width="1" height="24.3" fill="#2f5a98"/><rect x="354" y="355.48" width="1" height="24.3" fill="#c5e6c8"/><rect x="355" y="355.48" width="1" height="24.3" fill="#0f3f80"/><rect x="356" y="355.48" width="1" height="24.3" fill="#c5e6c8"/><rect x="357" y="355.48" width="1" height="24.3" fill="#2f5a98"/><rect x="362" y="355.48" width="1" height="24.3" fill="#2f5a98"/><rect x="363" y="355.48" width="1" height="24.3" fill="#c5e6c8"/><rect x="364" y="355.48" width="1" height="24.3" fill="#0f3f80"/><rect x="365" y="355.48" width="1" height="24.3" fill="#c5e6c8"/><rect x="366" y="355.48" width="1" height="24.3" fill="#2f5a98"/><rect x="371" y="355.48" width="1" height="24.3" fill="#2f5a98"/><rect x="372" y="355.48" width="1" height="24.3" fill="#c5e6c8"/><rect x="373" y="355.48" width="1" height="24.3" fill="#0f3f80"/><rect x="374" y="355.48" width="1" height="24.3" fill="#c5e6c8"/><rect x="375" y="355.48" width="1" height="24.3" fill="#2f5a98"/><rect x="396.6" y="355.48" width="26.7" height="24.3" fill="#8ca2c8"/><rect x="397" y="355.48" width="1" height="24.3" fill="#2f5a98"/><rect x="398" y="355.48" width="1" height="24.3" fill="#c5e6c8"/><rect x="399" y="355.48" width="1" height="24.3" fill="#0f3f80"/><rect x="400" y="355.48" width="1" height="24.3" fill="#c5e6c8"/><rect x="401" y="355.48" width="1" height="24.3" fill="#2f5a98"/><rect x="406" y="355.48" width="1" height="24.3" fill="#2f5a98"/><rect x="407" y="355.48" width="1" height="24.3" fill="#c5e6c8"/><rect x="408" y="355.48" width="1" height="24.3" fill="#0f3f80"/><rect x="409" y="355.48" width="1" height="24.3" fill="#c5e6c8"/><rect x="410" y="355.48" width="1" height="24.3" fill="#2f5a98"/><rect x="415" y="355.48" width="1" height="24.3" fill="#2f5a98"/><rect x="416" y="355.48" width="1" height="24.3" fill="#c5e6c8"/><rect x="417" y="355.48" width="1" height="24.3" fill="#0f3f80"/><rect x="418" y="355.48" width="1" height="24.3" fill="#c5e6c8"/><rect x="419" y="355.48" width="1" height="24.3" fill="#2f5a98"/><rect x="463" y="355.48" width="51.9" height="24.3" fill="#8ca2c8"/><rect x="466" y="355.48" width="1" height="24.3" fill="#2f5a98"/><rect x="467" y="355.48" width="1" height="24.3" fill="#c5e6c8"/><rect x="468" y="355.48" width="1" height="24.3" fill="#0f3f80"/><rect x="469" y="355.48" width="1" height="24.3" fill="#c5e6c8"/><rect x="470" y="355.48" width="1" height="24.3" fill="#2f5a98"/><rect x="475" y="355.48" width="1" height="24.3" fill="#2f5a98"/><rect x="476" y="355.48" width="1" height="24.3" fill="#c5e6c8"/><rect x="477" y="355.48" width="1" height="24.3" fill="#0f3f80"/><rect x="478" y="355.48" width="1" height="24.3" fill="#c5e6c8"/><rect x="479" y="355.48" width="1" height="24.3" fill="#2f5a98"/><rect x="484" y="355.48" width="1" height="24.3" fill="#2f5a98"/><rect x="485" y="355.48" width="1" height="24.3" fill="#c5e6c8"/><rect x="486" y="355.48" width="1" height="24.3" fill="#0f3f80"/><rect x="487" y="355.48" width="1" height="24.3" fill="#c5e6c8"/><rect x="488" y="355.48" width="1" height="24.3" fill="#2f5a98"/><rect x="493" y="355.48" width="1" height="24.3" fill="#2f5a98"/><rect x="494" y="355.48" width="1" height="24.3" fill="#c5e6c8"/><rect x="495" y="355.48" width="1" height="24.3" fill="#0f3f80"/><rect x="496" y="355.48" width="1" height="24.3" fill="#c5e6c8"/><rect x="497" y="355.48" width="1" height="24.3" fill="#2f5a98"/><rect x="502" y="355.48" width="1" height="24.3" fill="#2f5a98"/><rect x="503" y="355.48" width="1" height="24.3" fill="#c5e6c8"/><rect x="504" y="355.48" width="1" height="24.3" fill="#0f3f80"/><rect x="505" y="355.48" width="1" height="24.3" fill="#c5e6c8"/><rect x="506" y="355.48" width="1" height="24.3" fill="#2f5a98"/><rect x="511" y="355.48" width="1" height="24.3" fill="#2f5a98"/><rect x="512" y="355.48" width="1" height="24.3" fill="#c5e6c8"/><rect x="513" y="355.48" width="1" height="24.3" fill="#0f3f80"/><rect x="514" y="355.48" width="0.9" height="24.3" fill="#c5e6c8"/><rect x="530" y="355.48" width="40.3" height="24.3" fill="#8ca2c8"/><rect x="530" y="355.48" width="1" height="24.3" fill="#0f3f80"/><rect x="531" y="355.48" width="1" height="24.3" fill="#c5e6c8"/><rect x="532" y="355.48" width="1" height="24.3" fill="#2f5a98"/><rect x="535" y="355.48" width="1" height="24.3" fill="#2f5a98"/><rect x="536" y="355.48" width="1" height="24.3" fill="#c5e6c8"/><rect x="537" y="355.48" width="1" height="24.3" fill="#0f3f80"/><rect x="538" y="355.48" width="1" height="24.3" fill="#c5e6c8"/><rect x="539" y="355.48" width="1" height="24.3" fill="#2f5a98"/><rect x="544" y="355.48" width="1" height="24.3" fill="#2f5a98"/><rect x="545" y="355.48" width="1" height="24.3" fill="#c5e6c8"/><rect x="546" y="355.48" width="1" height="24.3" fill="#0f3f80"/><rect x="547" y="355.48" width="1" height="24.3" fill="#c5e6c8"/><rect x="548" y="355.48" width="1" height="24.3" fill="#2f5a98"/><rect x="553" y="355.48" width="1" height="24.3" fill="#2f5a98"/><rect x="554" y="355.48" width="1" height="24.3" fill="#c5e6c8"/><rect x="555" y="355.48" width="1" height="24.3" fill="#0f3f80"/><rect x="556" y="355.48" width="1" height="24.3" fill="#c5e6c8"/><rect x="557" y="355.48" width="1" height="24.3" fill="#2f5a98"/><rect x="562" y="355.48" width="1" height="24.3" fill="#2f5a98"/><rect x="563" y="355.48" width="1" height="24.3" fill="#c5e6c8"/><rect x="564" y="355.48" width="1" height="24.3" fill="#0f3f80"/><rect x="565" y="355.48" width="1" height="24.3" fill="#c5e6c8"/><rect x="566" y="355.48" width="1" height="24.3" fill="#2f5a98"/><rect x="596.8" y="355.48" width="42.8" height="24.3" fill="#8ca2c8"/><rect x="596.8" y="355.48" width="0.2" height="24.3" fill="#c5e6c8"/><rect x="597" y="355.48" width="1" height="24.3" fill="#0f3f80"/><rect x="598" y="355.48" width="1" height="24.3" fill="#c5e6c8"/><rect x="599" y="355.48" width="1" height="24.3" fill="#2f5a98"/><rect x="597" y="355.48" width="1" height="24.3" fill="#2f5a98"/><rect x="598" y="355.48" width="1" height="24.3" fill="#c5e6c8"/><rect x="599" y="355.48" width="1" height="24.3" fill="#0f3f80"/><rect x="600" y="355.48" width="1" height="24.3" fill="#c5e6c8"/><rect x="601" y="355.48" width="1" height="24.3" fill="#2f5a98"/><rect x="604" y="355.48" width="1" height="24.3" fill="#2f5a98"/><rect x="605" y="355.48" width="1" height="24.3" fill="#c5e6c8"/><rect x="606" y="355.48" width="1" height="24.3" fill="#0f3f80"/><rect x="607" y="355.48" width="1" height="24.3" fill="#c5e6c8"/><rect x="608" y="355.48" width="1" height="24.3" fill="#2f5a98"/><rect x="606" y="355.48" width="1" height="24.3" fill="#2f5a98"/><rect x="607" y="355.48" width="1" height="24.3" fill="#c5e6c8"/><rect x="608" y="355.48" width="1" height="24.3" fill="#0f3f80"/><rect x="609" y="355.48" width="1" height="24.3" fill="#c5e6c8"/><rect x="610" y="355.48" width="1" height="24.3" fill="#2f5a98"/><rect x="613" y="355.48" width="1" height="24.3" fill="#2f5a98"/><rect x="614" y="355.48" width="1" height="24.3" fill="#c5e6c8"/><rect x="615" y="355.48" width="1" height="24.3" fill="#0f3f80"/><rect x="616" y="355.48" width="1" height="24.3" fill="#c5e6c8"/><rect x="617" y="355.48" width="1" height="24.3" fill="#2f5a98"/><rect x="622" y="355.48" width="1" height="24.3" fill="#2f5a98"/><rect x="623" y="355.48" width="1" height="24.3" fill="#c5e6c8"/><rect x="624" y="355.48" width="1" height="24.3" fill="#0f3f80"/><rect x="625" y="355.48" width="1" height="24.3" fill="#c5e6c8"/><rect x="626" y="355.48" width="1" height="24.3" fill="#2f5a98"/><rect x="631" y="355.48" width="1" height="24.3" fill="#2f5a98"/><rect x="632" y="355.48" width="1" height="24.3" fill="#c5e6c8"/><rect x="633" y="355.48" width="1" height="24.3" fill="#0f3f80"/><rect x="634" y="355.48" width="1" height="24.3" fill="#c5e6c8"/><rect x="635" y="355.48" width="1" height="24.3" fill="#2f5a98"/><rect x="663" y="355.48" width="40.3" height="24.3" fill="#8ca2c8"/><rect x="666" y="355.48" width="1" height="24.3" fill="#2f5a98"/><rect x="667" y="355.48" width="1" height="24.3" fill="#c5e6c8"/><rect x="668" y="355.48" width="1" height="24.3" fill="#0f3f80"/><rect x="669" y="355.48" width="1" height="24.3" fill="#c5e6c8"/><rect x="670" y="355.48" width="1" height="24.3" fill="#2f5a98"/><rect x="673" y="355.48" width="1" height="24.3" fill="#2f5a98"/><rect x="674" y="355.48" width="1" height="24.3" fill="#c5e6c8"/><rect x="675" y="355.48" width="1" height="24.3" fill="#0f3f80"/><rect x="676" y="355.48" width="1" height="24.3" fill="#c5e6c8"/><rect x="677" y="355.48" width="1" height="24.3" fill="#2f5a98"/><rect x="675" y="355.48" width="1" height="24.3" fill="#2f5a98"/><rect x="676" y="355.48" width="1" height="24.3" fill="#c5e6c8"/><rect x="677" y="355.48" width="1" height="24.3" fill="#0f3f80"/><rect x="678" y="355.48" width="1" height="24.3" fill="#c5e6c8"/><rect x="679" y="355.48" width="1" height="24.3" fill="#2f5a98"/><rect x="682" y="355.48" width="1" height="24.3" fill="#2f5a98"/><rect x="683" y="355.48" width="1" height="24.3" fill="#c5e6c8"/><rect x="684" y="355.48" width="1" height="24.3" fill="#0f3f80"/><rect x="685" y="355.48" width="1" height="24.3" fill="#c5e6c8"/><rect x="686" y="355.48" width="1" height="24.3" fill="#2f5a98"/><rect x="684" y="355.48" width="1" height="24.3" fill="#2f5a98"/><rect x="685" y="355.48" width="1" height="24.3" fill="#c5e6c8"/><rect x="686" y="355.48" width="1" height="24.3" fill="#0f3f80"/><rect x="687" y="355.48" width="1" height="24.3" fill="#c5e6c8"/><rect x="688" y="355.48" width="1" height="24.3" fill="#2f5a98"/><rect x="691" y="355.48" width="1" height="24.3" fill="#2f5a98"/><rect x="692" y="355.48" width="1" height="24.3" fill="#c5e6c8"/><rect x="693" y="355.48" width="1" height="24.3" fill="#0f3f80"/><rect x="694" y="355.48" width="1" height="24.3" fill="#c5e6c8"/><rect x="695" y="355.48" width="1" height="24.3" fill="#2f5a98"/><rect x="700" y="355.48" width="1" height="24.3" fill="#2f5a98"/><rect x="701" y="355.48" width="1" height="24.3" fill="#c5e6c8"/><rect x="702" y="355.48" width="1" height="24.3" fill="#0f3f80"/><rect x="703" y="355.48" width="0.3" height="24.3" fill="#c5e6c8"/><rect x="730" y="355.48" width="42.1" height="24.3" fill="#8ca2c8"/><rect x="730" y="355.48" width="1" height="24.3" fill="#0f3f80"/><rect x="731" y="355.48" width="1" height="24.3" fill="#c5e6c8"/><rect x="732" y="355.48" width="1" height="24.3" fill="#2f5a98"/><rect x="735" y="355.48" width="1" height="24.3" fill="#2f5a98"/><rect x="736" y="355.48" width="1" height="24.3" fill="#c5e6c8"/><rect x="737" y="355.48" width="1" height="24.3" fill="#0f3f80"/><rect x="738" y="355.48" width="1" height="24.3" fill="#c5e6c8"/><rect x="739" y="355.48" width="1" height="24.3" fill="#2f5a98"/><rect x="744" y="355.48" width="1" height="24.3" fill="#2f5a98"/><rect x="745" y="355.48" width="1" height="24.3" fill="#c5e6c8"/><rect x="746" y="355.48" width="1" height="24.3" fill="#0f3f80"/><rect x="747" y="355.48" width="1" height="24.3" fill="#c5e6c8"/><rect x="748" y="355.48" width="1" height="24.3" fill="#2f5a98"/><rect x="751" y="355.48" width="1" height="24.3" fill="#2f5a98"/><rect x="752" y="355.48" width="1" height="24.3" fill="#c5e6c8"/><rect x="753" y="355.48" width="1" height="24.3" fill="#0f3f80"/><rect x="754" y="355.48" width="1" height="24.3" fill="#c5e6c8"/><rect x="755" y="355.48" width="1" height="24.3" fill="#2f5a98"/><rect x="753" y="355.48" width="1" height="24.3" fill="#2f5a98"/><rect x="754" y="355.48" width="1" height="24.3" fill="#c5e6c8"/><rect x="755" y="355.48" width="1" height="24.3" fill="#0f3f80"/><rect x="756" y="355.48" width="1" height="24.3" fill="#c5e6c8"/><rect x="757" y="355.48" width="1" height="24.3" fill="#2f5a98"/><rect x="760" y="355.48" width="1" height="24.3" fill="#2f5a98"/><rect x="761" y="355.48" width="1" height="24.3" fill="#c5e6c8"/><rect x="762" y="355.48" width="1" height="24.3" fill="#0f3f80"/><rect x="763" y="355.48" width="1" height="24.3" fill="#c5e6c8"/><rect x="764" y="355.48" width="1" height="24.3" fill="#2f5a98"/><rect x="762" y="355.48" width="1" height="24.3" fill="#2f5a98"/><rect x="763" y="355.48" width="1" height="24.3" fill="#c5e6c8"/><rect x="764" y="355.48" width="1" height="24.3" fill="#0f3f80"/><rect x="765" y="355.48" width="1" height="24.3" fill="#c5e6c8"/><rect x="766" y="355.48" width="1" height="24.3" fill="#2f5a98"/><rect x="769" y="355.48" width="1" height="24.3" fill="#2f5a98"/><rect x="770" y="355.48" width="1" height="24.3" fill="#c5e6c8"/><rect x="771" y="355.48" width="1" height="24.3" fill="#0f3f80"/><rect x="772" y="355.48" width="0.1" height="24.3" fill="#c5e6c8"/><rect x="797" y="155" width="1.6" height="243" fill="#c6f3c0"/><rect x="797" y="355.48" width="0.8" height="24.3" fill="#2f5f8f"/><rect x="130" y="155" width="1" height="244" fill="#262626"/><rect x="130" y="398" width="667.6" height="1" fill="#262626"/><rect x="130" y="173.22" width="1" height="24.3" fill="#0a4a28"/><rect x="130" y="233.98" width="1" height="24.3" fill="#6a6a30"/><rect x="130" y="294.73" width="1" height="24.3" fill="#1a9a2a"/><rect x="130" y="355.48" width="1" height="24.3" fill="#2a5aa8"/><rect x="131" y="504" width="666" height="243" fill="#fff"/><rect x="130" y="504" width="1" height="244" fill="#262626"/><rect x="130" y="747" width="667.6" height="1" fill="#262626"/><rect x="130" y="741" width="1" height="6" fill="#262626"/><rect x="196" y="741" width="1" height="6" fill="#262626"/><rect x="263" y="741" width="1" height="6" fill="#262626"/><rect x="330" y="741" width="1" height="6" fill="#262626"/><rect x="396" y="741" width="1" height="6" fill="#262626"/><rect x="463" y="741" width="1" height="6" fill="#262626"/><rect x="530" y="741" width="1" height="6" fill="#262626"/><rect x="596" y="741" width="1" height="6" fill="#262626"/><rect x="663" y="741" width="1" height="6" fill="#262626"/><rect x="730" y="741" width="1" height="6" fill="#262626"/><rect x="797" y="741" width="1" height="6" fill="#262626"/><rect x="131" y="747" width="6" height="1" fill="#262626"/><rect x="131" y="699" width="6" height="1" fill="#262626"/><rect x="131" y="650" width="6" height="1" fill="#262626"/><rect x="131" y="601" width="6" height="1" fill="#262626"/><rect x="131" y="552" width="6" height="1" fill="#262626"/><rect x="131" y="503" width="6" height="1" fill="#262626"/><rect x="196" y="686.8" width="1" height="4.88" fill="#5e1f94" fill-opacity="0.33"/><rect x="197" y="686.8" width="1" height="4.88" fill="#5e1f94" fill-opacity="0.5"/><rect x="198" y="686.8" width="1" height="4.88" fill="#5e1f94" fill-opacity="0.1"/><rect x="199" y="686.8" width="1" height="4.88" fill="#5e1f94" fill-opacity="0.7"/><rect x="200" y="686.8" width="1" height="4.88" fill="#5e1f94" fill-opacity="0.1"/><rect x="201" y="686.8" width="5" height="4.88" fill="#5e1f94" fill-opacity="0.33"/><rect x="206" y="686.8" width="1" height="4.88" fill="#5e1f94" fill-opacity="0.5"/><rect x="207" y="686.8" width="1" height="4.88" fill="#5e1f94" fill-opacity="0.1"/><rect x="208" y="686.8" width="1" height="4.88" fill="#5e1f94" fill-opacity="0.7"/><rect x="209" y="686.8" width="1" height="4.88" fill="#5e1f94" fill-opacity="0.1"/><rect x="210" y="686.8" width="5" height="4.88" fill="#5e1f94" fill-opacity="0.33"/><rect x="215" y="686.8" width="1" height="4.88" fill="#5e1f94" fill-opacity="0.5"/><rect x="216" y="686.8" width="1" height="4.88" fill="#5e1f94" fill-opacity="0.1"/><rect x="217" y="686.8" width="1" height="4.88" fill="#5e1f94" fill-opacity="0.7"/><rect x="218" y="686.8" width="1" height="4.88" fill="#5e1f94" fill-opacity="0.1"/><rect x="219" y="686.8" width="5" height="4.88" fill="#5e1f94" fill-opacity="0.33"/><rect x="224" y="686.8" width="1" height="4.88" fill="#5e1f94" fill-opacity="0.5"/><rect x="225" y="686.8" width="1" height="4.88" fill="#5e1f94" fill-opacity="0.1"/><rect x="226" y="686.8" width="1" height="4.88" fill="#5e1f94" fill-opacity="0.7"/><rect x="227" y="686.8" width="1" height="4.88" fill="#5e1f94" fill-opacity="0.1"/><rect x="228" y="686.8" width="5" height="4.88" fill="#5e1f94" fill-opacity="0.33"/><rect x="233" y="686.8" width="1" height="4.88" fill="#5e1f94" fill-opacity="0.5"/><rect x="234" y="686.8" width="1" height="4.88" fill="#5e1f94" fill-opacity="0.1"/><rect x="235" y="686.8" width="1" height="4.88" fill="#5e1f94" fill-opacity="0.7"/><rect x="236" y="686.8" width="1" height="4.88" fill="#5e1f94" fill-opacity="0.1"/><rect x="237" y="686.8" width="5" height="4.88" fill="#5e1f94" fill-opacity="0.33"/><rect x="242" y="686.8" width="1" height="4.88" fill="#5e1f94" fill-opacity="0.5"/><rect x="243" y="686.8" width="1" height="4.88" fill="#5e1f94" fill-opacity="0.1"/><rect x="244" y="686.8" width="1" height="4.88" fill="#5e1f94" fill-opacity="0.7"/><rect x="245" y="686.8" width="1" height="4.88" fill="#5e1f94" fill-opacity="0.1"/><rect x="246" y="686.8" width="2.6" height="4.88" fill="#5e1f94" fill-opacity="0.33"/><rect x="263" y="657.52" width="3" height="4.88" fill="#5e1f94" fill-opacity="0.33"/><rect x="266" y="657.52" width="1" height="4.88" fill="#5e1f94" fill-opacity="0.5"/><rect x="267" y="657.52" width="1" height="4.88" fill="#5e1f94" fill-opacity="0.1"/><rect x="268" y="657.52" width="1" height="4.88" fill="#5e1f94" fill-opacity="0.7"/><rect x="269" y="657.52" width="1" height="4.88" fill="#5e1f94" fill-opacity="0.1"/><rect x="270" y="657.52" width="5" height="4.88" fill="#5e1f94" fill-opacity="0.33"/><rect x="275" y="657.52" width="1" height="4.88" fill="#5e1f94" fill-opacity="0.5"/><rect x="276" y="657.52" width="1" height="4.88" fill="#5e1f94" fill-opacity="0.1"/><rect x="277" y="657.52" width="1" height="4.88" fill="#5e1f94" fill-opacity="0.7"/><rect x="278" y="657.52" width="1" height="4.88" fill="#5e1f94" fill-opacity="0.1"/><rect x="279" y="657.52" width="5" height="4.88" fill="#5e1f94" fill-opacity="0.33"/><rect x="284" y="657.52" width="1" height="4.88" fill="#5e1f94" fill-opacity="0.5"/><rect x="285" y="657.52" width="1" height="4.88" fill="#5e1f94" fill-opacity="0.1"/><rect x="286" y="657.52" width="1" height="4.88" fill="#5e1f94" fill-opacity="0.7"/><rect x="287" y="657.52" width="1" height="4.88" fill="#5e1f94" fill-opacity="0.1"/><rect x="288" y="657.52" width="5" height="4.88" fill="#5e1f94" fill-opacity="0.33"/><rect x="293" y="657.52" width="1" height="4.88" fill="#5e1f94" fill-opacity="0.5"/><rect x="294" y="657.52" width="1" height="4.88" fill="#5e1f94" fill-opacity="0.1"/><rect x="295" y="657.52" width="1" height="4.88" fill="#5e1f94" fill-opacity="0.7"/><rect x="296" y="657.52" width="1" height="4.88" fill="#5e1f94" fill-opacity="0.1"/><rect x="297" y="657.52" width="5" height="4.88" fill="#5e1f94" fill-opacity="0.33"/><rect x="302" y="657.52" width="1" height="4.88" fill="#5e1f94" fill-opacity="0.5"/><rect x="303" y="657.52" width="1" height="4.88" fill="#5e1f94" fill-opacity="0.1"/><rect x="304" y="657.52" width="1" height="4.88" fill="#5e1f94" fill-opacity="0.7"/><rect x="305" y="657.52" width="1" height="4.88" fill="#5e1f94" fill-opacity="0.1"/><rect x="306" y="657.52" width="5" height="4.88" fill="#5e1f94" fill-opacity="0.33"/><rect x="311" y="657.52" width="1" height="4.88" fill="#5e1f94" fill-opacity="0.5"/><rect x="312" y="657.52" width="1" height="4.88" fill="#5e1f94" fill-opacity="0.1"/><rect x="313" y="657.52" width="1" height="4.88" fill="#5e1f94" fill-opacity="0.7"/><rect x="314" y="657.52" width="0.6" height="4.88" fill="#5e1f94" fill-opacity="0.1"/><rect x="330" y="633.12" width="5" height="4.88" fill="#5e1f94" fill-opacity="0.33"/><rect x="335" y="633.12" width="1" height="4.88" fill="#5e1f94" fill-opacity="0.5"/><rect x="336" y="633.12" width="1" height="4.88" fill="#5e1f94" fill-opacity="0.1"/><rect x="337" y="633.12" width="1" height="4.88" fill="#5e1f94" fill-opacity="0.7"/><rect x="338" y="633.12" width="1" height="4.88" fill="#5e1f94" fill-opacity="0.1"/><rect x="339" y="633.12" width="5" height="4.88" fill="#5e1f94" fill-opacity="0.33"/><rect x="344" y="633.12" width="1" height="4.88" fill="#5e1f94" fill-opacity="0.5"/><rect x="345" y="633.12" width="1" height="4.88" fill="#5e1f94" fill-opacity="0.1"/><rect x="346" y="633.12" width="1" height="4.88" fill="#5e1f94" fill-opacity="0.7"/><rect x="347" y="633.12" width="1" height="4.88" fill="#5e1f94" fill-opacity="0.1"/><rect x="348" y="633.12" width="5" height="4.88" fill="#5e1f94" fill-opacity="0.33"/><rect x="353" y="633.12" width="1" height="4.88" fill="#5e1f94" fill-opacity="0.5"/><rect x="354" y="633.12" width="1" height="4.88" fill="#5e1f94" fill-opacity="0.1"/><rect x="355" y="633.12" width="1" height="4.88" fill="#5e1f94" fill-opacity="0.7"/><rect x="356" y="633.12" width="1" height="4.88" fill="#5e1f94" fill-opacity="0.1"/><rect x="357" y="633.12" width="5" height="4.88" fill="#5e1f94" fill-opacity="0.33"/><rect x="362" y="633.12" width="1" height="4.88" fill="#5e1f94" fill-opacity="0.5"/><rect x="363" y="633.12" width="1" height="4.88" fill="#5e1f94" fill-opacity="0.1"/><rect x="364" y="633.12" width="1" height="4.88" fill="#5e1f94" fill-opacity="0.7"/><rect x="365" y="633.12" width="1" height="4.88" fill="#5e1f94" fill-opacity="0.1"/><rect x="366" y="633.12" width="5" height="4.88" fill="#5e1f94" fill-opacity="0.33"/><rect x="371" y="633.12" width="1" height="4.88" fill="#5e1f94" fill-opacity="0.5"/><rect x="372" y="633.12" width="1" height="4.88" fill="#5e1f94" fill-opacity="0.1"/><rect x="373" y="633.12" width="1" height="4.88" fill="#5e1f94" fill-opacity="0.7"/><rect x="374" y="633.12" width="1" height="4.88" fill="#5e1f94" fill-opacity="0.1"/><rect x="375" y="633.12" width="4.8" height="4.88" fill="#5e1f94" fill-opacity="0.33"/><rect x="396.6" y="608.72" width="0.4" height="4.88" fill="#5e1f94" fill-opacity="0.33"/><rect x="397" y="608.72" width="1" height="4.88" fill="#5e1f94" fill-opacity="0.5"/><rect x="398" y="608.72" width="1" height="4.88" fill="#5e1f94" fill-opacity="0.1"/><rect x="399" y="608.72" width="1" height="4.88" fill="#5e1f94" fill-opacity="0.7"/><rect x="400" y="608.72" width="1" height="4.88" fill="#5e1f94" fill-opacity="0.1"/><rect x="401" y="608.72" width="5" height="4.88" fill="#5e1f94" fill-opacity="0.33"/><rect x="406" y="608.72" width="1" height="4.88" fill="#5e1f94" fill-opacity="0.5"/><rect x="407" y="608.72" width="1" height="4.88" fill="#5e1f94" fill-opacity="0.1"/><rect x="408" y="608.72" width="1" height="4.88" fill="#5e1f94" fill-opacity="0.7"/><rect x="409" y="608.72" width="1" height="4.88" fill="#5e1f94" fill-opacity="0.1"/><rect x="410" y="608.72" width="5" height="4.88" fill="#5e1f94" fill-opacity="0.33"/><rect x="415" y="608.72" width="1" height="4.88" fill="#5e1f94" fill-opacity="0.5"/><rect x="416" y="608.72" width="1" height="4.88" fill="#5e1f94" fill-opacity="0.1"/><rect x="417" y="608.72" width="1" height="4.88" fill="#5e1f94" fill-opacity="0.7"/><rect x="418" y="608.72" width="1" height="4.88" fill="#5e1f94" fill-opacity="0.1"/><rect x="419" y="608.72" width="4.3" height="4.88" fill="#5e1f94" fill-opacity="0.33"/><rect x="463" y="584.32" width="3" height="4.88" fill="#5e1f94" fill-opacity="0.33"/><rect x="466" y="584.32" width="1" height="4.88" fill="#5e1f94" fill-opacity="0.5"/><rect x="467" y="584.32" width="1" height="4.88" fill="#5e1f94" fill-opacity="0.1"/><rect x="468" y="584.32" width="1" height="4.88" fill="#5e1f94" fill-opacity="0.7"/><rect x="469" y="584.32" width="1" height="4.88" fill="#5e1f94" fill-opacity="0.1"/><rect x="470" y="584.32" width="5" height="4.88" fill="#5e1f94" fill-opacity="0.33"/><rect x="475" y="584.32" width="1" height="4.88" fill="#5e1f94" fill-opacity="0.5"/><rect x="476" y="584.32" width="1" height="4.88" fill="#5e1f94" fill-opacity="0.1"/><rect x="477" y="584.32" width="1" height="4.88" fill="#5e1f94" fill-opacity="0.7"/><rect x="478" y="584.32" width="1" height="4.88" fill="#5e1f94" fill-opacity="0.1"/><rect x="479" y="584.32" width="5" height="4.88" fill="#5e1f94" fill-opacity="0.33"/><rect x="484" y="584.32" width="1" height="4.88" fill="#5e1f94" fill-opacity="0.5"/><rect x="485" y="584.32" width="1" height="4.88" fill="#5e1f94" fill-opacity="0.1"/><rect x="486" y="584.32" width="1" height="4.88" fill="#5e1f94" fill-opacity="0.7"/><rect x="487" y="584.32" width="1" height="4.88" fill="#5e1f94" fill-opacity="0.1"/><rect x="488" y="584.32" width="5" height="4.88" fill="#5e1f94" fill-opacity="0.33"/><rect x="493" y="584.32" width="1" height="4.88" fill="#5e1f94" fill-opacity="0.5"/><rect x="494" y="584.32" width="1" height="4.88" fill="#5e1f94" fill-opacity="0.1"/><rect x="495" y="584.32" width="1" height="4.88" fill="#5e1f94" fill-opacity="0.7"/><rect x="496" y="584.32" width="1" height="4.88" fill="#5e1f94" fill-opacity="0.1"/><rect x="497" y="584.32" width="5" height="4.88" fill="#5e1f94" fill-opacity="0.33"/><rect x="502" y="584.32" width="1" height="4.88" fill="#5e1f94" fill-opacity="0.5"/><rect x="503" y="584.32" width="1" height="4.88" fill="#5e1f94" fill-opacity="0.1"/><rect x="504" y="584.32" width="1" height="4.88" fill="#5e1f94" fill-opacity="0.7"/><rect x="505" y="584.32" width="1" height="4.88" fill="#5e1f94" fill-opacity="0.1"/><rect x="506" y="584.32" width="5" height="4.88" fill="#5e1f94" fill-opacity="0.33"/><rect x="511" y="584.32" width="1" height="4.88" fill="#5e1f94" fill-opacity="0.5"/><rect x="512" y="584.32" width="1" height="4.88" fill="#5e1f94" fill-opacity="0.1"/><rect x="513" y="584.32" width="1" height="4.88" fill="#5e1f94" fill-opacity="0.7"/><rect x="514" y="584.32" width="0.9" height="4.88" fill="#5e1f94" fill-opacity="0.1"/><rect x="530" y="559.92" width="1" height="4.88" fill="#5e1f94" fill-opacity="0.7"/><rect x="531" y="559.92" width="1" height="4.88" fill="#5e1f94" fill-opacity="0.1"/><rect x="532" y="559.92" width="3" height="4.88" fill="#5e1f94" fill-opacity="0.33"/><rect x="535" y="559.92" width="1" height="4.88" fill="#5e1f94" fill-opacity="0.5"/><rect x="536" y="559.92" width="1" height="4.88" fill="#5e1f94" fill-opacity="0.1"/><rect x="537" y="559.92" width="1" height="4.88" fill="#5e1f94" fill-opacity="0.7"/><rect x="538" y="559.92" width="1" height="4.88" fill="#5e1f94" fill-opacity="0.1"/><rect x="539" y="559.92" width="5" height="4.88" fill="#5e1f94" fill-opacity="0.33"/><rect x="544" y="559.92" width="1" height="4.88" fill="#5e1f94" fill-opacity="0.5"/><rect x="545" y="559.92" width="1" height="4.88" fill="#5e1f94" fill-opacity="0.1"/><rect x="546" y="559.92" width="1" height="4.88" fill="#5e1f94" fill-opacity="0.7"/><rect x="547" y="559.92" width="1" height="4.88" fill="#5e1f94" fill-opacity="0.1"/><rect x="548" y="559.92" width="5" height="4.88" fill="#5e1f94" fill-opacity="0.33"/><rect x="553" y="559.92" width="1" height="4.88" fill="#5e1f94" fill-opacity="0.5"/><rect x="554" y="559.92" width="1" height="4.88" fill="#5e1f94" fill-opacity="0.1"/><rect x="555" y="559.92" width="1" height="4.88" fill="#5e1f94" fill-opacity="0.7"/><rect x="556" y="559.92" width="1" height="4.88" fill="#5e1f94" fill-opacity="0.1"/><rect x="557" y="559.92" width="5" height="4.88" fill="#5e1f94" fill-opacity="0.33"/><rect x="562" y="559.92" width="1" height="4.88" fill="#5e1f94" fill-opacity="0.5"/><rect x="563" y="559.92" width="1" height="4.88" fill="#5e1f94" fill-opacity="0.1"/><rect x="564" y="559.92" width="1" height="4.88" fill="#5e1f94" fill-opacity="0.7"/><rect x="565" y="559.92" width="1" height="4.88" fill="#5e1f94" fill-opacity="0.1"/><rect x="566" y="559.92" width="4.3" height="4.88" fill="#5e1f94" fill-opacity="0.33"/><rect x="596.8" y="720.96" width="0.2" height="4.88" fill="#5e1f94" fill-opacity="0.1"/><rect x="597" y="720.96" width="1" height="4.88" fill="#5e1f94" fill-opacity="0.5"/><rect x="598" y="720.96" width="1" height="4.88" fill="#5e1f94" fill-opacity="0.1"/><rect x="599" y="720.96" width="1" height="4.88" fill="#5e1f94" fill-opacity="0.7"/><rect x="600" y="720.96" width="1" height="4.88" fill="#5e1f94" fill-opacity="0.1"/><rect x="601" y="720.96" width="3" height="4.88" fill="#5e1f94" fill-opacity="0.33"/><rect x="604" y="720.96" width="1" height="4.88" fill="#5e1f94" fill-opacity="0.5"/><rect x="605" y="720.96" width="1" height="4.88" fill="#5e1f94" fill-opacity="0.1"/><rect x="606" y="720.96" width="1" height="4.88" fill="#5e1f94" fill-opacity="0.5"/><rect x="607" y="720.96" width="1" height="4.88" fill="#5e1f94" fill-opacity="0.1"/><rect x="608" y="720.96" width="1" height="4.88" fill="#5e1f94" fill-opacity="0.7"/><rect x="609" y="720.96" width="1" height="4.88" fill="#5e1f94" fill-opacity="0.1"/><rect x="610" y="720.96" width="3" height="4.88" fill="#5e1f94" fill-opacity="0.33"/><rect x="613" y="720.96" width="1" height="4.88" fill="#5e1f94" fill-opacity="0.5"/><rect x="614" y="720.96" width="1" height="4.88" fill="#5e1f94" fill-opacity="0.1"/><rect x="615" y="720.96" width="1" height="4.88" fill="#5e1f94" fill-opacity="0.7"/><rect x="616" y="720.96" width="1" height="4.88" fill="#5e1f94" fill-opacity="0.1"/><rect x="617" y="720.96" width="5" height="4.88" fill="#5e1f94" fill-opacity="0.33"/><rect x="622" y="720.96" width="1" height="4.88" fill="#5e1f94" fill-opacity="0.5"/><rect x="623" y="720.96" width="1" height="4.88" fill="#5e1f94" fill-opacity="0.1"/><rect x="624" y="720.96" width="1" height="4.88" fill="#5e1f94" fill-opacity="0.7"/><rect x="625" y="720.96" width="1" height="4.88" fill="#5e1f94" fill-opacity="0.1"/><rect x="626" y="720.96" width="5" height="4.88" fill="#5e1f94" fill-opacity="0.33"/><rect x="631" y="720.96" width="1" height="4.88" fill="#5e1f94" fill-opacity="0.5"/><rect x="632" y="720.96" width="1" height="4.88" fill="#5e1f94" fill-opacity="0.1"/><rect x="633" y="720.96" width="1" height="4.88" fill="#5e1f94" fill-opacity="0.7"/><rect x="634" y="720.96" width="1" height="4.88" fill="#5e1f94" fill-opacity="0.1"/><rect x="635" y="720.96" width="4.6" height="4.88" fill="#5e1f94" fill-opacity="0.33"/><rect x="663" y="696.56" width="3" height="4.88" fill="#5e1f94" fill-opacity="0.33"/><rect x="666" y="696.56" width="1" height="4.88" fill="#5e1f94" fill-opacity="0.5"/><rect x="667" y="696.56" width="1" height="4.88" fill="#5e1f94" fill-opacity="0.1"/><rect x="668" y="696.56" width="1" height="4.88" fill="#5e1f94" fill-opacity="0.7"/><rect x="669" y="696.56" width="1" height="4.88" fill="#5e1f94" fill-opacity="0.1"/><rect x="670" y="696.56" width="3" height="4.88" fill="#5e1f94" fill-opacity="0.33"/><rect x="673" y="696.56" width="1" height="4.88" fill="#5e1f94" fill-opacity="0.5"/><rect x="674" y="696.56" width="1" height="4.88" fill="#5e1f94" fill-opacity="0.1"/><rect x="675" y="696.56" width="1" height="4.88" fill="#5e1f94" fill-opacity="0.5"/><rect x="676" y="696.56" width="1" height="4.88" fill="#5e1f94" fill-opacity="0.1"/><rect x="677" y="696.56" width="1" height="4.88" fill="#5e1f94" fill-opacity="0.7"/><rect x="678" y="696.56" width="1" height="4.88" fill="#5e1f94" fill-opacity="0.1"/><rect x="679" y="696.56" width="3" height="4.88" fill="#5e1f94" fill-opacity="0.33"/><rect x="682" y="696.56" width="1" height="4.88" fill="#5e1f94" fill-opacity="0.5"/><rect x="683" y="696.56" width="1" height="4.88" fill="#5e1f94" fill-opacity="0.1"/><rect x="684" y="696.56" width="1" height="4.88" fill="#5e1f94" fill-opacity="0.5"/><rect x="685" y="696.56" width="1" height="4.88" fill="#5e1f94" fill-opacity="0.1"/><rect x="686" y="696.56" width="1" height="4.88" fill="#5e1f94" fill-opacity="0.7"/><rect x="687" y="696.56" width="1" height="4.88" fill="#5e1f94" fill-opacity="0.1"/><rect x="688" y="696.56" width="3" height="4.88" fill="#5e1f94" fill-opacity="0.33"/><rect x="691" y="696.56" width="1" height="4.88" fill="#5e1f94" fill-opacity="0.5"/><rect x="692" y="696.56" width="1" height="4.88" fill="#5e1f94" fill-opacity="0.1"/><rect x="693" y="696.56" width="1" height="4.88" fill="#5e1f94" fill-opacity="0.7"/><rect x="694" y="696.56" width="1" height="4.88" fill="#5e1f94" fill-opacity="0.1"/><rect x="695" y="696.56" width="5" height="4.88" fill="#5e1f94" fill-opacity="0.33"/><rect x="700" y="696.56" width="1" height="4.88" fill="#5e1f94" fill-opacity="0.5"/><rect x="701" y="696.56" width="1" height="4.88" fill="#5e1f94" fill-opacity="0.1"/><rect x="702" y="696.56" width="1" height="4.88" fill="#5e1f94" fill-opacity="0.7"/><rect x="703" y="696.56" width="0.3" height="4.88" fill="#5e1f94" fill-opacity="0.1"/><rect x="730" y="667.28" width="1" height="4.88" fill="#5e1f94" fill-opacity="0.7"/><rect x="731" y="667.28" width="1" height="4.88" fill="#5e1f94" fill-opacity="0.1"/><rect x="732" y="667.28" width="3" height="4.88" fill="#5e1f94" fill-opacity="0.33"/><rect x="735" y="667.28" width="1" height="4.88" fill="#5e1f94" fill-opacity="0.5"/><rect x="736" y="667.28" width="1" height="4.88" fill="#5e1f94" fill-opacity="0.1"/><rect x="737" y="667.28" width="1" height="4.88" fill="#5e1f94" fill-opacity="0.7"/><rect x="738" y="667.28" width="1" height="4.88" fill="#5e1f94" fill-opacity="0.1"/><rect x="739" y="667.28" width="5" height="4.88" fill="#5e1f94" fill-opacity="0.33"/><rect x="744" y="667.28" width="1" height="4.88" fill="#5e1f94" fill-opacity="0.5"/><rect x="745" y="667.28" width="1" height="4.88" fill="#5e1f94" fill-opacity="0.1"/><rect x="746" y="667.28" width="1" height="4.88" fill="#5e1f94" fill-opacity="0.7"/><rect x="747" y="667.28" width="1" height="4.88" fill="#5e1f94" fill-opacity="0.1"/><rect x="748" y="667.28" width="3" height="4.88" fill="#5e1f94" fill-opacity="0.33"/><rect x="751" y="667.28" width="1" height="4.88" fill="#5e1f94" fill-opacity="0.5"/><rect x="752" y="667.28" width="1" height="4.88" fill="#5e1f94" fill-opacity="0.1"/><rect x="753" y="667.28" width="1" height="4.88" fill="#5e1f94" fill-opacity="0.5"/><rect x="754" y="667.28" width="1" height="4.88" fill="#5e1f94" fill-opacity="0.1"/><rect x="755" y="667.28" width="1" height="4.88" fill="#5e1f94" fill-opacity="0.7"/><rect x="756" y="667.28" width="1" height="4.88" fill="#5e1f94" fill-opacity="0.1"/><rect x="757" y="667.28" width="3" height="4.88" fill="#5e1f94" fill-opacity="0.33"/><rect x="760" y="667.28" width="1" height="4.88" fill="#5e1f94" fill-opacity="0.5"/><rect x="761" y="667.28" width="1" height="4.88" fill="#5e1f94" fill-opacity="0.1"/><rect x="762" y="667.28" width="1" height="4.88" fill="#5e1f94" fill-opacity="0.5"/><rect x="763" y="667.28" width="1" height="4.88" fill="#5e1f94" fill-opacity="0.1"/><rect x="764" y="667.28" width="1" height="4.88" fill="#5e1f94" fill-opacity="0.7"/><rect x="765" y="667.28" width="1" height="4.88" fill="#5e1f94" fill-opacity="0.1"/><rect x="766" y="667.28" width="3" height="4.88" fill="#5e1f94" fill-opacity="0.33"/><rect x="769" y="667.28" width="1" height="4.88" fill="#5e1f94" fill-opacity="0.5"/><rect x="770" y="667.28" width="1" height="4.88" fill="#5e1f94" fill-opacity="0.1"/><rect x="771" y="667.28" width="1" height="4.88" fill="#5e1f94" fill-opacity="0.7"/><rect x="772" y="667.28" width="0.1" height="4.88" fill="#5e1f94" fill-opacity="0.1"/><rect x="130" y="710.71" width="1" height="5.37" fill="#5e1f94" fill-opacity="0.85"/><rect x="796.4" y="645.32" width="1" height="4.88" fill="#5e1f94" fill-opacity="0.6"/><rect x="130" y="633.12" width="144" height="48.8" fill="#ffd60a" fill-opacity="0.68"/><rect x="148.07" y="633.12" width="1" height="48.8" fill="#fff" fill-opacity="0.55"/><rect x="166.14" y="633.12" width="1" height="48.8" fill="#fff" fill-opacity="0.55"/><rect x="184.21" y="633.12" width="1" height="48.8" fill="#fff" fill-opacity="0.55"/><rect x="202.28" y="633.12" width="1" height="48.8" fill="#fff" fill-opacity="0.55"/><rect x="220.35" y="633.12" width="1" height="48.8" fill="#fff" fill-opacity="0.55"/><rect x="238.42" y="633.12" width="1" height="48.8" fill="#fff" fill-opacity="0.55"/><rect x="256.49" y="633.12" width="1" height="48.8" fill="#fff" fill-opacity="0.55"/><rect x="278.1" y="633.12" width="0.8" height="48.8" fill="#ffd60a" fill-opacity="0.35"/><rect x="281" y="633.12" width="0.8" height="48.8" fill="#ffd60a" fill-opacity="0.35"/><rect x="287.9" y="633.12" width="0.8" height="48.8" fill="#ffd60a" fill-opacity="0.35"/><rect x="309.3" y="633.12" width="0.8" height="48.8" fill="#ffd60a" fill-opacity="0.35"/><rect x="326.4" y="633.12" width="17.2" height="48.8" fill="#ffd60a" fill-opacity="0.68"/><rect x="391.8" y="633.12" width="343" height="48.8" fill="#ffd60a" fill-opacity="0.68"/><rect x="409.07" y="633.12" width="1" height="48.8" fill="#fff" fill-opacity="0.55"/><rect x="427.14" y="633.12" width="1" height="48.8" fill="#fff" fill-opacity="0.55"/><rect x="445.21" y="633.12" width="1" height="48.8" fill="#fff" fill-opacity="0.55"/><rect x="463.28" y="633.12" width="1" height="48.8" fill="#fff" fill-opacity="0.55"/><rect x="481.35" y="633.12" width="1" height="48.8" fill="#fff" fill-opacity="0.55"/><rect x="499.42" y="633.12" width="1" height="48.8" fill="#fff" fill-opacity="0.55"/><rect x="517.49" y="633.12" width="1" height="48.8" fill="#fff" fill-opacity="0.55"/><rect x="535.56" y="633.12" width="1" height="48.8" fill="#fff" fill-opacity="0.55"/><rect x="553.63" y="633.12" width="1" height="48.8" fill="#fff" fill-opacity="0.55"/><rect x="571.7" y="633.12" width="1" height="48.8" fill="#fff" fill-opacity="0.55"/><rect x="589.77" y="633.12" width="1" height="48.8" fill="#fff" fill-opacity="0.55"/><rect x="607.84" y="633.12" width="1" height="48.8" fill="#fff" fill-opacity="0.55"/><rect x="625.91" y="633.12" width="1" height="48.8" fill="#fff" fill-opacity="0.55"/><rect x="643.98" y="633.12" width="1" height="48.8" fill="#fff" fill-opacity="0.55"/><rect x="662.05" y="633.12" width="1" height="48.8" fill="#fff" fill-opacity="0.55"/><rect x="680.12" y="633.12" width="1" height="48.8" fill="#fff" fill-opacity="0.55"/><rect x="698.19" y="633.12" width="1" height="48.8" fill="#fff" fill-opacity="0.55"/><rect x="716.26" y="633.12" width="1" height="48.8" fill="#fff" fill-opacity="0.55"/><rect x="736.6" y="633.12" width="0.8" height="48.8" fill="#ffd60a" fill-opacity="0.25"/><rect x="743.1" y="633.12" width="0.8" height="48.8" fill="#ffd60a" fill-opacity="0.25"/><rect x="757.2" y="633.12" width="0.8" height="48.8" fill="#ffd60a" fill-opacity="0.25"/><rect x="780.5" y="633.12" width="16.5" height="48.8" fill="#ffd60a" fill-opacity="0.42"/><rect x="797" y="504" width="1.6" height="243" fill="#c6f3c0"/></svg>
<div class="a" style="left:314.2px;top:133.66px;width:300px;text-align:center;font-size:16px;line-height:18px;color:#1f1f1f;font-weight:bold">State Transitions Of Nodes</div>
<div class="a" style="left:100px;top:404.15px;width:60px;text-align:center;font-size:14px;line-height:16px;color:#262626;font-weight:normal">0</div>
<div class="a" style="left:166.7px;top:404.15px;width:60px;text-align:center;font-size:14px;line-height:16px;color:#262626;font-weight:normal">0.02</div>
<div class="a" style="left:233.4px;top:404.15px;width:60px;text-align:center;font-size:14px;line-height:16px;color:#262626;font-weight:normal">0.04</div>
<div class="a" style="left:300.1px;top:404.15px;width:60px;text-align:center;font-size:14px;line-height:16px;color:#262626;font-weight:normal">0.06</div>
<div class="a" style="left:366.8px;top:404.15px;width:60px;text-align:center;font-size:14px;line-height:16px;color:#262626;font-weight:normal">0.08</div>
<div class="a" style="left:433.5px;top:404.15px;width:60px;text-align:center;font-size:14px;line-height:16px;color:#262626;font-weight:normal">0.1</div>
<div class="a" style="left:500.2px;top:404.15px;width:60px;text-align:center;font-size:14px;line-height:16px;color:#262626;font-weight:normal">0.12</div>
<div class="a" style="left:566.9px;top:404.15px;width:60px;text-align:center;font-size:14px;line-height:16px;color:#262626;font-weight:normal">0.14</div>
<div class="a" style="left:633.6px;top:404.15px;width:60px;text-align:center;font-size:14px;line-height:16px;color:#262626;font-weight:normal">0.16</div>
<div class="a" style="left:700.3px;top:404.15px;width:60px;text-align:center;font-size:14px;line-height:16px;color:#262626;font-weight:normal">0.18</div>
<div class="a" style="left:767px;top:404.15px;width:60px;text-align:center;font-size:14px;line-height:16px;color:#262626;font-weight:normal">0.2</div>
<div class="a" style="left:404px;top:420.96px;width:120px;text-align:center;font-size:15.4px;line-height:17.4px;color:#262626;font-weight:normal">Time (s)</div>
<div class="a" style="left:15px;top:177.42px;width:110px;text-align:right;font-size:14px;line-height:16px;color:#262626;font-weight:normal">STA 2437 MHz</div>
<div class="a" style="left:15px;top:238.17px;width:110px;text-align:right;font-size:14px;line-height:16px;color:#262626;font-weight:normal">AP 2437 MHz</div>
<div class="a" style="left:15px;top:298.92px;width:110px;text-align:right;font-size:14px;line-height:16px;color:#262626;font-weight:normal">Peripheral</div>
<div class="a" style="left:15px;top:359.67px;width:110px;text-align:right;font-size:14px;line-height:16px;color:#262626;font-weight:normal">Central</div>
<div class="a" style="left:314.1px;top:483.26px;width:300px;text-align:center;font-size:16px;line-height:18px;color:#1f1f1f;font-weight:bold">Channel Occupancy</div>
<div class="a" style="left:100px;top:753.15px;width:60px;text-align:center;font-size:14px;line-height:16px;color:#262626;font-weight:normal">0</div>
<div class="a" style="left:166.7px;top:753.15px;width:60px;text-align:center;font-size:14px;line-height:16px;color:#262626;font-weight:normal">0.02</div>
<div class="a" style="left:233.4px;top:753.15px;width:60px;text-align:center;font-size:14px;line-height:16px;color:#262626;font-weight:normal">0.04</div>
<div class="a" style="left:300.1px;top:753.15px;width:60px;text-align:center;font-size:14px;line-height:16px;color:#262626;font-weight:normal">0.06</div>
<div class="a" style="left:366.8px;top:753.15px;width:60px;text-align:center;font-size:14px;line-height:16px;color:#262626;font-weight:normal">0.08</div>
<div class="a" style="left:433.5px;top:753.15px;width:60px;text-align:center;font-size:14px;line-height:16px;color:#262626;font-weight:normal">0.1</div>
<div class="a" style="left:500.2px;top:753.15px;width:60px;text-align:center;font-size:14px;line-height:16px;color:#262626;font-weight:normal">0.12</div>
<div class="a" style="left:566.9px;top:753.15px;width:60px;text-align:center;font-size:14px;line-height:16px;color:#262626;font-weight:normal">0.14</div>
<div class="a" style="left:633.6px;top:753.15px;width:60px;text-align:center;font-size:14px;line-height:16px;color:#262626;font-weight:normal">0.16</div>
<div class="a" style="left:700.3px;top:753.15px;width:60px;text-align:center;font-size:14px;line-height:16px;color:#262626;font-weight:normal">0.18</div>
<div class="a" style="left:767px;top:753.15px;width:60px;text-align:center;font-size:14px;line-height:16px;color:#262626;font-weight:normal">0.2</div>
<div class="a" style="left:404px;top:770.96px;width:120px;text-align:center;font-size:15.4px;line-height:17.4px;color:#262626;font-weight:normal">Time (s)</div>
<div class="a" style="left:65.3px;top:739.95px;width:60px;text-align:right;font-size:14px;line-height:16px;color:#262626;font-weight:normal">2400</div>
<div class="a" style="left:65.3px;top:691.15px;width:60px;text-align:right;font-size:14px;line-height:16px;color:#262626;font-weight:normal">2420</div>
<div class="a" style="left:65.3px;top:642.35px;width:60px;text-align:right;font-size:14px;line-height:16px;color:#262626;font-weight:normal">2440</div>
<div class="a" style="left:65.3px;top:593.55px;width:60px;text-align:right;font-size:14px;line-height:16px;color:#262626;font-weight:normal">2460</div>
<div class="a" style="left:65.3px;top:544.75px;width:60px;text-align:right;font-size:14px;line-height:16px;color:#262626;font-weight:normal">2480</div>
<div class="a" style="left:65.3px;top:495.95px;width:60px;text-align:right;font-size:14px;line-height:16px;color:#262626;font-weight:normal">2500</div>
<svg class="plot" width="1088" height="819"><text transform="translate(85.8,626.3) rotate(-90)" text-anchor="middle" font-family="Liberation Sans" font-size="15.5" fill="#262626">Frequency (MHz)</text></svg>
<div class="a" style="left:780.9px;top:140.8px;width:3.2px;height:3.2px;border-radius:50%;background:#5a5a5a"></div><div class="a" style="left:786.9px;top:140.8px;width:3.2px;height:3.2px;border-radius:50%;background:#5a5a5a"></div><div class="a" style="left:792.9px;top:140.8px;width:3.2px;height:3.2px;border-radius:50%;background:#5a5a5a"></div>
<div class="a" style="left:780.9px;top:490.7px;width:3.2px;height:3.2px;border-radius:50%;background:#5a5a5a"></div><div class="a" style="left:786.9px;top:490.7px;width:3.2px;height:3.2px;border-radius:50%;background:#5a5a5a"></div><div class="a" style="left:792.9px;top:490.7px;width:3.2px;height:3.2px;border-radius:50%;background:#5a5a5a"></div>
<div class="a" style="left:828px;top:143.25px;width:200px;text-align:left;font-size:14px;line-height:16px;color:#1f1f1f;font-weight:bold">Operating States</div>
<div class="a" style="left:828px;top:172px;width:50px;height:20px;background:#bfbfbf"></div>
<div class="a" style="left:888px;top:173.15px;width:180px;text-align:left;font-size:14px;line-height:16px;color:#262626;font-weight:normal">Sleep</div>
<div class="a" style="left:828px;top:202px;width:50px;height:20px;background:#ffffff"></div>
<div class="a" style="left:888px;top:203.15px;width:180px;text-align:left;font-size:14px;line-height:16px;color:#262626;font-weight:normal">Listen</div>
<div class="a" style="left:828px;top:232px;width:50px;height:20px;background:#113f7f"></div>
<div class="a" style="left:888px;top:233.15px;width:180px;text-align:left;font-size:14px;line-height:16px;color:#262626;font-weight:normal">Transmission</div>
<div class="a" style="left:828px;top:262px;width:50px;height:20px;background:#007f14"></div>
<div class="a" style="left:888px;top:263.15px;width:180px;text-align:left;font-size:14px;line-height:16px;color:#262626;font-weight:normal">Reception Success</div>
<div class="a" style="left:828px;top:292px;width:50px;height:20px;background:#e31a14"></div>
<div class="a" style="left:888px;top:293.15px;width:180px;text-align:left;font-size:14px;line-height:16px;color:#262626;font-weight:normal">Reception Failure</div>
<div class="a" style="left:828px;top:322px;width:50px;height:20px;background:#ccffcc"></div>
<div class="a" style="left:888px;top:323.15px;width:180px;text-align:left;font-size:14px;line-height:16px;color:#262626;font-weight:normal">Reception Others</div>
<div class="a" style="left:828px;top:352px;width:50px;height:20px;background:#edb120"></div>
<div class="a" style="left:888px;top:353.15px;width:180px;text-align:left;font-size:14px;line-height:16px;color:#262626;font-weight:normal">Contention</div>
<div class="a" style="left:828px;top:493.45px;width:200px;text-align:left;font-size:14px;line-height:16px;color:#1f1f1f;font-weight:bold">Node Types</div>
<div class="a" style="left:828px;top:521px;width:50px;height:20px;background:#5e1f94"></div>
<div class="a" style="left:888px;top:523.15px;width:180px;text-align:left;font-size:14px;line-height:16px;color:#262626;font-weight:normal">Bluetooth LE</div>
<div class="a" style="left:828px;top:551px;width:50px;height:20px;background:#ffd60a"></div>
<div class="a" style="left:888px;top:553.15px;width:180px;text-align:left;font-size:14px;line-height:16px;color:#262626;font-weight:normal">WLAN</div>
</body></html>
